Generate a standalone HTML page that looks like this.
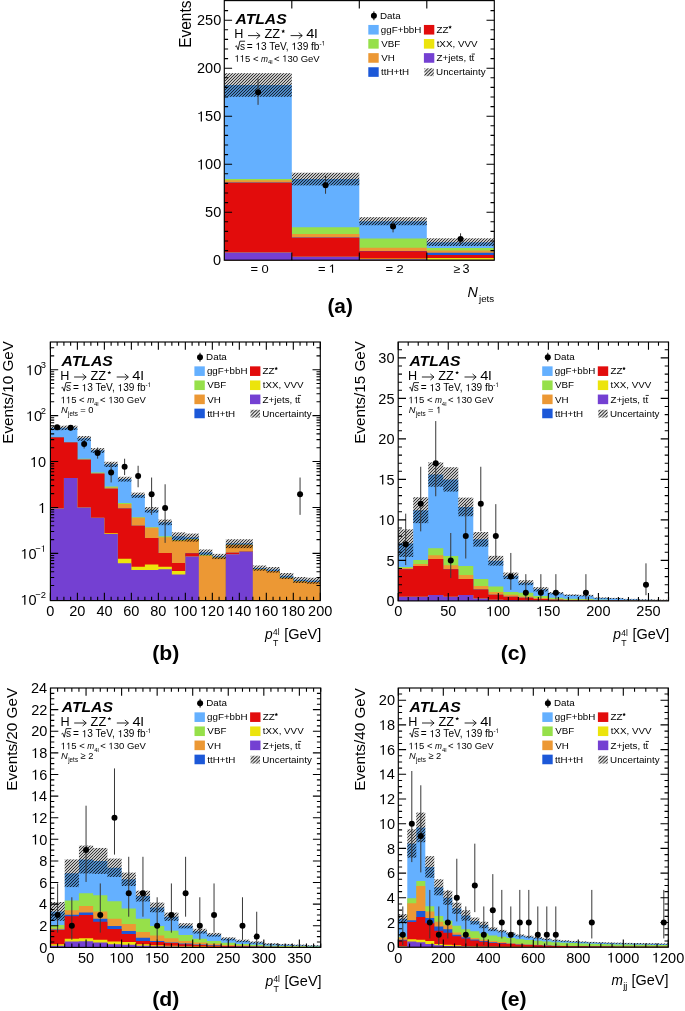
<!DOCTYPE html>
<html><head><meta charset="utf-8"><style>
html,body{margin:0;padding:0;background:#fff;width:685px;height:1011px;overflow:hidden;}
svg{display:block;font-family:"Liberation Sans", sans-serif;will-change:transform;-webkit-font-smoothing:antialiased;}
</style></head><body>
<svg width="685" height="1011" viewBox="0 0 685 1011">
<defs>
<pattern id="hp" patternUnits="userSpaceOnUse" width="3" height="3"><path d="M-1,1 L1,-1 M0,3 L3,0 M2,4 L4,2" stroke="#000" stroke-opacity="0.86" stroke-width="1.01"/></pattern><pattern id="hpl" patternUnits="userSpaceOnUse" width="3.4" height="3.4"><path d="M-1,1 L1,-1 M0,3.4 L3.4,0 M2.4,4.4 L4.4,2.4" stroke="#000" stroke-width="1.0"/></pattern>
<clipPath id="ca"><rect x="224.3" y="0.6" width="270" height="259.6"/></clipPath>
<clipPath id="cb"><rect x="50.4" y="342" width="269.9" height="258.6"/></clipPath>
<clipPath id="cc"><rect x="398.2" y="342" width="270.3" height="258.9"/></clipPath>
<clipPath id="cd"><rect x="50.5" y="688" width="270.2" height="259.4"/></clipPath>
<clipPath id="ce"><rect x="398.3" y="688" width="270" height="259.2"/></clipPath>
</defs>
<rect width="685" height="1011" fill="#fff"/>
<g font-family="'Liberation Sans', sans-serif" fill="#000">
<g clip-path="url(#ca)">
<path d="M224.3,262.2L224.3,85 L291.8,85L291.8,179.08 L359.3,179.08L359.3,221.22 L426.8,221.22L426.8,242.15 L494.3,242.15L494.3,262.2 Z" fill="#64b0ff"/>
<path d="M224.3,262.2L224.3,179.08 L291.8,179.08L291.8,227.18 L359.3,227.18L359.3,238.6 L426.8,238.6L426.8,248.01 L494.3,248.01L494.3,262.2 Z" fill="#96e04a"/>
<path d="M224.3,262.2L224.3,180.23 L291.8,180.23L291.8,234.09 L359.3,234.09L359.3,247.82 L426.8,247.82L426.8,250.5 L494.3,250.5L494.3,262.2 Z" fill="#ec9834"/>
<path d="M224.3,262.2L224.3,182.44 L291.8,182.44L291.8,237.54 L359.3,237.54L359.3,250.98 L426.8,250.98L426.8,252.81 L494.3,252.81L494.3,262.2 Z" fill="#1c58d8"/>
<path d="M224.3,262.2L224.3,182.63 L291.8,182.63L291.8,237.83 L359.3,237.83L359.3,251.27 L426.8,251.27L426.8,254.92 L494.3,254.92L494.3,262.2 Z" fill="#e20c0c"/>
<path d="M224.3,262.2L224.3,252.42 L291.8,252.42L291.8,256.65 L359.3,256.65L359.3,258.38 L426.8,258.38L426.8,257.99 L494.3,257.99L494.3,262.2 Z" fill="#ece40c"/>
<path d="M224.3,262.2L224.3,252.52 L291.8,252.52L291.8,256.84 L359.3,256.84L359.3,259.34 L426.8,259.34L426.8,259.72 L494.3,259.72L494.3,262.2 Z" fill="#7440d2"/>
</g>
<g clip-path="url(#ca)">
<rect x="224.3" y="73.19" width="67.5" height="23.62" fill="url(#hp)"/>
<rect x="291.8" y="172.74" width="67.5" height="12.67" fill="url(#hp)"/>
<rect x="359.3" y="217.19" width="67.5" height="8.06" fill="url(#hp)"/>
<rect x="426.8" y="238.31" width="67.5" height="7.68" fill="url(#hp)"/>
</g>
<g clip-path="url(#ca)">
<line x1="258.05" y1="78.76" x2="258.05" y2="104.87" stroke="#383838" stroke-width="1.0"/>
<circle cx="258.05" cy="92.2" r="3.0" fill="#000"/>
<line x1="325.55" y1="175.91" x2="325.55" y2="193.77" stroke="#383838" stroke-width="1.0"/>
<circle cx="325.55" cy="185.32" r="3.0" fill="#000"/>
<line x1="393.05" y1="220.84" x2="393.05" y2="232.36" stroke="#383838" stroke-width="1.0"/>
<circle cx="393.05" cy="226.6" r="3.0" fill="#000"/>
<line x1="460.55" y1="233.32" x2="460.55" y2="243.88" stroke="#383838" stroke-width="1.0"/>
<circle cx="460.55" cy="239.08" r="3.0" fill="#000"/>
</g>
<path d="M291.8,260.2v-7.8 M291.8,0.6v7.8 M359.3,260.2v-7.8 M359.3,0.6v7.8 M426.8,260.2v-7.8 M426.8,0.6v7.8 M224.3,212.2h7.8 M494.3,212.2h-7.8 M224.3,164.2h7.8 M494.3,164.2h-7.8 M224.3,116.2h7.8 M494.3,116.2h-7.8 M224.3,68.2h7.8 M494.3,68.2h-7.8 M224.3,20.2h7.8 M494.3,20.2h-7.8 M224.3,250.6h3.8 M494.3,250.6h-3.8 M224.3,241h3.8 M494.3,241h-3.8 M224.3,231.4h3.8 M494.3,231.4h-3.8 M224.3,221.8h3.8 M494.3,221.8h-3.8 M224.3,202.6h3.8 M494.3,202.6h-3.8 M224.3,193h3.8 M494.3,193h-3.8 M224.3,183.4h3.8 M494.3,183.4h-3.8 M224.3,173.8h3.8 M494.3,173.8h-3.8 M224.3,154.6h3.8 M494.3,154.6h-3.8 M224.3,145h3.8 M494.3,145h-3.8 M224.3,135.4h3.8 M494.3,135.4h-3.8 M224.3,125.8h3.8 M494.3,125.8h-3.8 M224.3,106.6h3.8 M494.3,106.6h-3.8 M224.3,97h3.8 M494.3,97h-3.8 M224.3,87.4h3.8 M494.3,87.4h-3.8 M224.3,77.8h3.8 M494.3,77.8h-3.8 M224.3,58.6h3.8 M494.3,58.6h-3.8 M224.3,49h3.8 M494.3,49h-3.8 M224.3,39.4h3.8 M494.3,39.4h-3.8 M224.3,29.8h3.8 M494.3,29.8h-3.8 M224.3,10.6h3.8 M494.3,10.6h-3.8" stroke="#000" stroke-width="1.1" fill="none"/>
<rect x="224.3" y="0.6" width="270" height="259.6" fill="none" stroke="#000" stroke-width="1.15"/>
<text transform="translate(235.51,24.45) scale(1.02,1)" font-size="15.4" text-anchor="start" font-weight="bold" font-style="italic">ATLAS</text>
<text transform="translate(234.19,38.2) scale(0.95,1)" font-size="13.3" text-anchor="start">H</text>
<path d="M248,35.6H259.8 M256.5,32.6L260.1,35.6L256.5,38.6" stroke="#000" stroke-width="0.85" fill="none"/>
<text transform="translate(264.42,38.2) scale(0.96,1)" font-size="13.3" text-anchor="start">ZZ</text>
<polygon points="283.2,29.3 283.73,30.57 285.1,30.68 284.06,31.58 284.38,32.92 283.2,32.2 282.02,32.92 282.34,31.58 281.3,30.68 282.67,30.57" fill="#000"/>
<path d="M290.6,35.6H302 M298.7,32.6L302.3,35.6L298.7,38.6" stroke="#000" stroke-width="0.85" fill="none"/>
<text transform="translate(306.23,38.2) scale(1.1,1)" font-size="13.3" text-anchor="start">4l</text>
<path d="M235.3,46.5 l1.2,-0.7 l1.6,4.0 l1.8,-8.6 h5.2" stroke="#000" stroke-width="0.85" fill="none"/>
<text transform="translate(239.9,49.8) scale(1,1)" font-size="10.1" text-anchor="start">s</text>
<text transform="translate(246.8,49.8) scale(1,1)" font-size="10.1" text-anchor="start">=  3 TeV,  39 fb</text>
<path transform="translate(255.5,49.8) scale(10.1000,-10.1000)" d="M0.258,0L0.343,0L0.343,0.688L0.262,0.688C0.24,0.62 0.2,0.585 0.1,0.575L0.1,0.505C0.17,0.51 0.225,0.53 0.258,0.56Z"/>
<path transform="translate(291.45,49.8) scale(10.1000,-10.1000)" d="M0.258,0L0.343,0L0.343,0.688L0.262,0.688C0.24,0.62 0.2,0.585 0.1,0.575L0.1,0.505C0.17,0.51 0.225,0.53 0.258,0.56Z"/>
<text transform="translate(319.43,45.6) scale(0.96,1)" font-size="6.6" text-anchor="start">- </text>
<path transform="translate(321.54,45.6) scale(6.3360,-6.6000)" d="M0.258,0L0.343,0L0.343,0.688L0.262,0.688C0.24,0.62 0.2,0.585 0.1,0.575L0.1,0.505C0.17,0.51 0.225,0.53 0.258,0.56Z"/>
<text transform="translate(234.49,61.8) scale(1,1)" font-size="9.5" text-anchor="start">  5 &lt; </text>
<path transform="translate(234.49,61.8) scale(9.5000,-9.5000)" d="M0.258,0L0.343,0L0.343,0.688L0.262,0.688C0.24,0.62 0.2,0.585 0.1,0.575L0.1,0.505C0.17,0.51 0.225,0.53 0.258,0.56Z"/>
<path transform="translate(239.77,61.8) scale(9.5000,-9.5000)" d="M0.258,0L0.343,0L0.343,0.688L0.262,0.688C0.24,0.62 0.2,0.585 0.1,0.575L0.1,0.505C0.17,0.51 0.225,0.53 0.258,0.56Z"/>
<text transform="translate(261.03,61.8) scale(0.88,1)" font-size="9.5" text-anchor="start" font-style="italic">m</text>
<text transform="translate(267.95,64.1) scale(0.96,1)" font-size="6.2" text-anchor="start">4l</text>
<text transform="translate(274.01,61.8) scale(1,1)" font-size="9.5" text-anchor="start">&lt;  30 GeV</text>
<path transform="translate(282.19,61.8) scale(9.5000,-9.5000)" d="M0.258,0L0.343,0L0.343,0.688L0.262,0.688C0.24,0.62 0.2,0.585 0.1,0.575L0.1,0.505C0.17,0.51 0.225,0.53 0.258,0.56Z"/>
<line x1="373.9" y1="11.4" x2="373.9" y2="20.2" stroke="#000" stroke-width="1"/>
<circle cx="373.9" cy="15.8" r="3.0" fill="#000"/>
<text transform="translate(380.02,18.8) scale(0.99,1)" font-size="9.9" text-anchor="start">Data</text>
<rect x="368.3" y="24.95" width="10.4" height="9.6" fill="#64b0ff"/>
<text transform="translate(380.81,32.9) scale(0.99,1)" font-size="9.9" text-anchor="start">ggF+bbH</text>
<rect x="423.9" y="24.95" width="10.4" height="9.6" fill="#e20c0c"/>
<text transform="translate(436.51,32.9) scale(0.99,1)" font-size="9.9" text-anchor="start">ZZ</text>
<polygon points="450.08,25.25 450.58,26.46 451.89,26.56 450.89,27.41 451.2,28.69 450.08,28.01 448.96,28.69 449.27,27.41 448.27,26.56 449.58,26.46" fill="#000"/>
<rect x="368.3" y="39.05" width="10.4" height="9.6" fill="#96e04a"/>
<text transform="translate(381.15,47) scale(0.99,1)" font-size="9.9" text-anchor="start">VBF</text>
<rect x="423.9" y="39.05" width="10.4" height="9.6" fill="#ece40c"/>
<text transform="translate(436.65,47) scale(0.99,1)" font-size="9.9" text-anchor="start">tXX, VVV</text>
<rect x="368.3" y="53.15" width="10.4" height="9.6" fill="#ec9834"/>
<text transform="translate(381.15,61.1) scale(0.99,1)" font-size="9.9" text-anchor="start">VH</text>
<rect x="423.9" y="53.15" width="10.4" height="9.6" fill="#7440d2"/>
<text transform="translate(436.51,61.1) scale(0.99,1)" font-size="9.9" text-anchor="start">Z+jets, t</text>
<text transform="translate(471.49,61.1) scale(0.99,1)" font-size="9.9" text-anchor="start">t</text>
<line x1="471.74" y1="54.05" x2="474.94" y2="54.05" stroke="#000" stroke-width="0.8"/>
<rect x="368.3" y="67.25" width="10.4" height="9.6" fill="#1c58d8"/>
<text transform="translate(381.05,75.2) scale(0.99,1)" font-size="9.9" text-anchor="start">ttH+tH</text>
<rect x="424.4" y="68.35" width="9.4" height="7.8" fill="url(#hpl)"/>
<text transform="translate(436.06,75.2) scale(0.99,1)" font-size="9.9" text-anchor="start">Uncertainty</text>
<text transform="translate(213.11,265.39) scale(1.01,1)" font-size="14.4" text-anchor="start">0</text>
<text transform="translate(205.04,217.39) scale(1.01,1)" font-size="14.4" text-anchor="start">50</text>
<text transform="translate(196.97,169.39) scale(1.01,1)" font-size="14.4" text-anchor="start"> 00</text>
<path transform="translate(196.97,169.39) scale(14.5440,-14.4000)" d="M0.258,0L0.343,0L0.343,0.688L0.262,0.688C0.24,0.62 0.2,0.585 0.1,0.575L0.1,0.505C0.17,0.51 0.225,0.53 0.258,0.56Z"/>
<text transform="translate(196.97,121.39) scale(1.01,1)" font-size="14.4" text-anchor="start"> 50</text>
<path transform="translate(196.97,121.39) scale(14.5440,-14.4000)" d="M0.258,0L0.343,0L0.343,0.688L0.262,0.688C0.24,0.62 0.2,0.585 0.1,0.575L0.1,0.505C0.17,0.51 0.225,0.53 0.258,0.56Z"/>
<text transform="translate(196.97,73.39) scale(1.01,1)" font-size="14.4" text-anchor="start">200</text>
<text transform="translate(196.97,25.39) scale(1.01,1)" font-size="14.4" text-anchor="start">250</text>
<text transform="translate(250.45,272.7) scale(1.12,1)" font-size="11.6" text-anchor="start">=</text>
<text transform="translate(261.58,272.7) scale(1.1,1)" font-size="11.8" text-anchor="start">0</text>
<text transform="translate(317.95,272.7) scale(1.12,1)" font-size="11.6" text-anchor="start">=</text>
<text transform="translate(328.63,272.7) scale(1.1,1)" font-size="11.8" text-anchor="start"> </text>
<path transform="translate(328.63,272.7) scale(12.9800,-11.8000)" d="M0.258,0L0.343,0L0.343,0.688L0.262,0.688C0.24,0.62 0.2,0.585 0.1,0.575L0.1,0.505C0.17,0.51 0.225,0.53 0.258,0.56Z"/>
<text transform="translate(385.45,272.7) scale(1.12,1)" font-size="11.6" text-anchor="start">=</text>
<text transform="translate(396.45,272.7) scale(1.1,1)" font-size="11.8" text-anchor="start">2</text>
<text transform="translate(453.53,272.7) scale(1.05,1)" font-size="11.8" text-anchor="start">&#8805;</text>
<text transform="translate(462.39,272.7) scale(1.02,1)" font-size="12.4" text-anchor="start">3</text>
<text transform="translate(191.2,0.5) rotate(-90) scale(1,1.04)" font-size="15.5" text-anchor="end">Events</text>
<text transform="translate(467.47,296.8) scale(1,1)" font-size="14.3" text-anchor="start" font-style="italic">N</text>
<text transform="translate(478.95,301.6) scale(1.09,1)" font-size="9" text-anchor="start">jets</text>
<text transform="translate(327.41,313) scale(1.04,1)" font-size="20" text-anchor="start" font-weight="bold">(a)</text>
<g clip-path="url(#cb)">
<path d="M50.4,602.6L50.4,427.84 L63.9,427.84L63.9,427.67 L77.39,427.67L77.39,438.23 L90.89,438.23L90.89,450.35 L104.38,450.35L104.38,464.21 L117.88,464.21L117.88,479.02 L131.37,479.02L131.37,495.04 L144.87,495.04L144.87,509.66 L158.36,509.66L158.36,522.17 L171.86,522.17L171.86,536.36 L185.35,536.36L185.35,537.2 L198.85,537.2L198.85,552.22 L212.34,552.22L212.34,556.29 L225.84,556.29L225.84,543.21 L239.33,543.21L239.33,543.21 L252.83,543.21L252.83,567.92 L266.32,567.92L266.32,569.62 L279.81,569.62L279.81,575.78 L293.31,575.78L293.31,579.77 L306.81,579.77L306.81,580.51 L320.3,580.51L320.3,602.6 Z" fill="#64b0ff"/>
<path d="M50.4,602.6L50.4,437.13 L63.9,437.13L63.9,442.15 L77.39,442.15L77.39,458.63 L90.89,458.63L90.89,472.4 L104.38,472.4L104.38,486.51 L117.88,486.51L117.88,503.1 L131.37,503.1L131.37,517.18 L144.87,517.18L144.87,527.22 L158.36,527.22L158.36,536.36 L171.86,536.36L171.86,539.98 L185.35,539.98L185.35,539.01 L198.85,539.01L198.85,554.77 L212.34,554.77L212.34,557.45 L225.84,557.45L225.84,544.79 L239.33,544.79L239.33,544.79 L252.83,544.79L252.83,569.18 L266.32,569.18L266.32,570.99 L279.81,570.99L279.81,577.67 L293.31,577.67L293.31,581.29 L306.81,581.29L306.81,582.11 L320.3,582.11L320.3,602.6 Z" fill="#96e04a"/>
<path d="M50.4,602.6L50.4,437.25 L63.9,437.25L63.9,442.3 L77.39,442.3L77.39,459.13 L90.89,459.13L90.89,472.9 L104.38,472.9L104.38,487.54 L117.88,487.54L117.88,504.05 L131.37,504.05L131.37,517.82 L144.87,517.82L144.87,527.75 L158.36,527.75L158.36,537.2 L171.86,537.2L171.86,540.48 L185.35,540.48L185.35,539.49 L198.85,539.49L198.85,555.41 L212.34,555.41L212.34,557.45 L225.84,557.45L225.84,544.79 L239.33,544.79L239.33,544.79 L252.83,544.79L252.83,569.18 L266.32,569.18L266.32,570.99 L279.81,570.99L279.81,577.67 L293.31,577.67L293.31,581.29 L306.81,581.29L306.81,582.11 L320.3,582.11L320.3,602.6 Z" fill="#ec9834"/>
<path d="M50.4,602.6L50.4,437.42 L63.9,437.42L63.9,442.52 L77.39,442.52L77.39,459.82 L90.89,459.82L90.89,473.77 L104.38,473.77L104.38,488.79 L117.88,488.79L117.88,508.61 L131.37,508.61L131.37,525.72 L144.87,525.72L144.87,538.08 L158.36,538.08L158.36,552.97 L171.86,552.97L171.86,562.93 L185.35,562.93L185.35,553.16 L198.85,553.16L198.85,602.6 L212.34,602.6L212.34,602.6 L225.84,602.6L225.84,552.78 L239.33,552.78L239.33,551.5 L252.83,551.5L252.83,602.6 L266.32,602.6L266.32,602.6 L279.81,602.6L279.81,602.6 L293.31,602.6L293.31,602.6 L306.81,602.6L306.81,602.6 L320.3,602.6L320.3,602.6 Z" fill="#1c58d8"/>
<path d="M50.4,602.6L50.4,437.42 L63.9,437.42L63.9,442.52 L77.39,442.52L77.39,459.82 L90.89,459.82L90.89,473.77 L104.38,473.77L104.38,488.79 L117.88,488.79L117.88,508.61 L131.37,508.61L131.37,525.72 L144.87,525.72L144.87,538.08 L158.36,538.08L158.36,552.97 L171.86,552.97L171.86,562.93 L185.35,562.93L185.35,553.16 L198.85,553.16L198.85,602.6 L212.34,602.6L212.34,602.6 L225.84,602.6L225.84,552.78 L239.33,552.78L239.33,551.5 L252.83,551.5L252.83,602.6 L266.32,602.6L266.32,602.6 L279.81,602.6L279.81,602.6 L293.31,602.6L293.31,602.6 L306.81,602.6L306.81,602.6 L320.3,602.6L320.3,602.6 Z" fill="#e20c0c"/>
<path d="M50.4,602.6L50.4,508.61 L63.9,508.61L63.9,478.12 L77.39,478.12L77.39,507.41 L90.89,507.41L90.89,517.82 L104.38,517.82L104.38,533.29 L117.88,533.29L117.88,558.69 L131.37,558.69L131.37,566.74 L144.87,566.74L144.87,564.57 L158.36,564.57L158.36,566.74 L171.86,566.74L171.86,570.99 L185.35,570.99L185.35,556.52 L198.85,556.52L198.85,602.6 L212.34,602.6L212.34,602.6 L225.84,602.6L225.84,554.36 L239.33,554.36L239.33,551.86 L252.83,551.86L252.83,602.6 L266.32,602.6L266.32,602.6 L279.81,602.6L279.81,602.6 L293.31,602.6L293.31,602.6 L306.81,602.6L306.81,602.6 L320.3,602.6L320.3,602.6 Z" fill="#ece40c"/>
<path d="M50.4,602.6L50.4,508.61 L63.9,508.61L63.9,478.12 L77.39,478.12L77.39,507.41 L90.89,507.41L90.89,517.82 L104.38,517.82L104.38,534.02 L117.88,534.02L117.88,563.25 L131.37,563.25L131.37,570.06 L144.87,570.06L144.87,570.06 L158.36,570.06L158.36,569.18 L171.86,569.18L171.86,574.61 L185.35,574.61L185.35,556.52 L198.85,556.52L198.85,602.6 L212.34,602.6L212.34,602.6 L225.84,602.6L225.84,554.36 L239.33,554.36L239.33,551.86 L252.83,551.86L252.83,602.6 L266.32,602.6L266.32,602.6 L279.81,602.6L279.81,602.6 L293.31,602.6L293.31,602.6 L306.81,602.6L306.81,602.6 L320.3,602.6L320.3,602.6 Z" fill="#7440d2"/>
</g>
<g clip-path="url(#cb)">
<rect x="50.4" y="425.77" width="13.5" height="4.39" fill="url(#hp)"/>
<rect x="63.9" y="425.6" width="13.49" height="4.39" fill="url(#hp)"/>
<rect x="77.39" y="435.98" width="13.5" height="4.79" fill="url(#hp)"/>
<rect x="90.89" y="448.1" width="13.5" height="4.79" fill="url(#hp)"/>
<rect x="104.38" y="461.78" width="13.49" height="5.2" fill="url(#hp)"/>
<rect x="117.88" y="476.77" width="13.5" height="4.79" fill="url(#hp)"/>
<rect x="131.37" y="492.61" width="13.5" height="5.2" fill="url(#hp)"/>
<rect x="144.87" y="507.05" width="13.5" height="5.6" fill="url(#hp)"/>
<rect x="158.36" y="519.57" width="13.5" height="5.6" fill="url(#hp)"/>
<rect x="171.86" y="532.4" width="13.5" height="8.89" fill="url(#hp)"/>
<rect x="185.35" y="533.58" width="13.5" height="8.06" fill="url(#hp)"/>
<rect x="198.85" y="549.44" width="13.5" height="6.01" fill="url(#hp)"/>
<rect x="212.34" y="553.86" width="13.5" height="5.2" fill="url(#hp)"/>
<rect x="225.84" y="539.26" width="13.49" height="8.89" fill="url(#hp)"/>
<rect x="239.33" y="539.26" width="13.5" height="8.89" fill="url(#hp)"/>
<rect x="252.83" y="565.5" width="13.5" height="5.2" fill="url(#hp)"/>
<rect x="266.32" y="567.01" width="13.49" height="5.6" fill="url(#hp)"/>
<rect x="279.81" y="573" width="13.5" height="6.01" fill="url(#hp)"/>
<rect x="293.31" y="576.99" width="13.5" height="6.01" fill="url(#hp)"/>
<rect x="306.81" y="577.74" width="13.5" height="6.01" fill="url(#hp)"/>
</g>
<g clip-path="url(#cb)">
<line x1="57.15" y1="424.87" x2="57.15" y2="430.12" stroke="#383838" stroke-width="1.0"/>
<circle cx="57.15" cy="427.32" r="3.0" fill="#000"/>
<line x1="70.64" y1="425.2" x2="70.64" y2="430.49" stroke="#383838" stroke-width="1.0"/>
<circle cx="70.64" cy="427.67" r="3.0" fill="#000"/>
<line x1="84.14" y1="440.42" x2="84.14" y2="448.48" stroke="#383838" stroke-width="1.0"/>
<circle cx="84.14" cy="444.04" r="3.0" fill="#000"/>
<line x1="97.63" y1="447.51" x2="97.63" y2="458.63" stroke="#383838" stroke-width="1.0"/>
<circle cx="97.63" cy="452.91" r="3.0" fill="#000"/>
<line x1="111.13" y1="463.09" x2="111.13" y2="482.44" stroke="#383838" stroke-width="1.0"/>
<circle cx="111.13" cy="472.4" r="3.0" fill="#000"/>
<line x1="124.62" y1="458.72" x2="124.62" y2="475.12" stroke="#383838" stroke-width="1.0"/>
<circle cx="124.62" cy="466.68" r="3.0" fill="#000"/>
<line x1="138.12" y1="465.75" x2="138.12" y2="487.26" stroke="#383838" stroke-width="1.0"/>
<circle cx="138.12" cy="476.02" r="3.0" fill="#000"/>
<line x1="151.61" y1="477.52" x2="151.61" y2="514.86" stroke="#383838" stroke-width="1.0"/>
<circle cx="151.61" cy="494.23" r="3.0" fill="#000"/>
<line x1="165.11" y1="484.28" x2="165.11" y2="542.86" stroke="#383838" stroke-width="1.0"/>
<circle cx="165.11" cy="508" r="3.0" fill="#000"/>
<line x1="300.06" y1="477.52" x2="300.06" y2="514.86" stroke="#383838" stroke-width="1.0"/>
<circle cx="300.06" cy="494.23" r="3.0" fill="#000"/>
</g>
<path d="M50.4,600.6v-7.8 M50.4,342v7.8 M77.39,600.6v-7.8 M77.39,342v7.8 M104.38,600.6v-7.8 M104.38,342v7.8 M131.37,600.6v-7.8 M131.37,342v7.8 M158.36,600.6v-7.8 M158.36,342v7.8 M185.35,600.6v-7.8 M185.35,342v7.8 M212.34,600.6v-7.8 M212.34,342v7.8 M239.33,600.6v-7.8 M239.33,342v7.8 M266.32,600.6v-7.8 M266.32,342v7.8 M293.31,600.6v-7.8 M293.31,342v7.8 M320.3,600.6v-7.8 M320.3,342v7.8 M57.15,600.6v-3.8 M57.15,342v3.8 M63.9,600.6v-3.8 M63.9,342v3.8 M70.64,600.6v-3.8 M70.64,342v3.8 M84.14,600.6v-3.8 M84.14,342v3.8 M90.89,600.6v-3.8 M90.89,342v3.8 M97.63,600.6v-3.8 M97.63,342v3.8 M111.13,600.6v-3.8 M111.13,342v3.8 M117.88,600.6v-3.8 M117.88,342v3.8 M124.62,600.6v-3.8 M124.62,342v3.8 M138.12,600.6v-3.8 M138.12,342v3.8 M144.87,600.6v-3.8 M144.87,342v3.8 M151.61,600.6v-3.8 M151.61,342v3.8 M165.11,600.6v-3.8 M165.11,342v3.8 M171.86,600.6v-3.8 M171.86,342v3.8 M178.6,600.6v-3.8 M178.6,342v3.8 M192.1,600.6v-3.8 M192.1,342v3.8 M198.85,600.6v-3.8 M198.85,342v3.8 M205.59,600.6v-3.8 M205.59,342v3.8 M219.09,600.6v-3.8 M219.09,342v3.8 M225.84,600.6v-3.8 M225.84,342v3.8 M232.58,600.6v-3.8 M232.58,342v3.8 M246.08,600.6v-3.8 M246.08,342v3.8 M252.83,600.6v-3.8 M252.83,342v3.8 M259.57,600.6v-3.8 M259.57,342v3.8 M273.07,600.6v-3.8 M273.07,342v3.8 M279.81,600.6v-3.8 M279.81,342v3.8 M286.56,600.6v-3.8 M286.56,342v3.8 M300.06,600.6v-3.8 M300.06,342v3.8 M306.81,600.6v-3.8 M306.81,342v3.8 M313.55,600.6v-3.8 M313.55,342v3.8 M50.4,553.42h7.8 M320.3,553.42h-7.8 M50.4,507.49h7.8 M320.3,507.49h-7.8 M50.4,461.56h7.8 M320.3,461.56h-7.8 M50.4,415.63h7.8 M320.3,415.63h-7.8 M50.4,369.7h7.8 M320.3,369.7h-7.8 M50.4,585.52h3.8 M320.3,585.52h-3.8 M50.4,577.44h3.8 M320.3,577.44h-3.8 M50.4,571.7h3.8 M320.3,571.7h-3.8 M50.4,567.25h3.8 M320.3,567.25h-3.8 M50.4,563.61h3.8 M320.3,563.61h-3.8 M50.4,560.53h3.8 M320.3,560.53h-3.8 M50.4,557.87h3.8 M320.3,557.87h-3.8 M50.4,555.52h3.8 M320.3,555.52h-3.8 M50.4,539.59h3.8 M320.3,539.59h-3.8 M50.4,531.51h3.8 M320.3,531.51h-3.8 M50.4,525.77h3.8 M320.3,525.77h-3.8 M50.4,521.32h3.8 M320.3,521.32h-3.8 M50.4,517.68h3.8 M320.3,517.68h-3.8 M50.4,514.6h3.8 M320.3,514.6h-3.8 M50.4,511.94h3.8 M320.3,511.94h-3.8 M50.4,509.59h3.8 M320.3,509.59h-3.8 M50.4,493.66h3.8 M320.3,493.66h-3.8 M50.4,485.58h3.8 M320.3,485.58h-3.8 M50.4,479.84h3.8 M320.3,479.84h-3.8 M50.4,475.39h3.8 M320.3,475.39h-3.8 M50.4,471.75h3.8 M320.3,471.75h-3.8 M50.4,468.67h3.8 M320.3,468.67h-3.8 M50.4,466.01h3.8 M320.3,466.01h-3.8 M50.4,463.66h3.8 M320.3,463.66h-3.8 M50.4,447.73h3.8 M320.3,447.73h-3.8 M50.4,439.65h3.8 M320.3,439.65h-3.8 M50.4,433.91h3.8 M320.3,433.91h-3.8 M50.4,429.46h3.8 M320.3,429.46h-3.8 M50.4,425.82h3.8 M320.3,425.82h-3.8 M50.4,422.74h3.8 M320.3,422.74h-3.8 M50.4,420.08h3.8 M320.3,420.08h-3.8 M50.4,417.73h3.8 M320.3,417.73h-3.8 M50.4,401.8h3.8 M320.3,401.8h-3.8 M50.4,393.72h3.8 M320.3,393.72h-3.8 M50.4,387.98h3.8 M320.3,387.98h-3.8 M50.4,383.53h3.8 M320.3,383.53h-3.8 M50.4,379.89h3.8 M320.3,379.89h-3.8 M50.4,376.81h3.8 M320.3,376.81h-3.8 M50.4,374.15h3.8 M320.3,374.15h-3.8 M50.4,371.8h3.8 M320.3,371.8h-3.8 M50.4,355.87h3.8 M320.3,355.87h-3.8 M50.4,347.79h3.8 M320.3,347.79h-3.8" stroke="#000" stroke-width="1.1" fill="none"/>
<rect x="50.4" y="342" width="269.9" height="258.6" fill="none" stroke="#000" stroke-width="1.15"/>
<text transform="translate(61.61,365.85) scale(1.02,1)" font-size="15.4" text-anchor="start" font-weight="bold" font-style="italic">ATLAS</text>
<text transform="translate(60.29,379.6) scale(0.95,1)" font-size="13.3" text-anchor="start">H</text>
<path d="M74.1,377H85.9 M82.6,374L86.2,377L82.6,380" stroke="#000" stroke-width="0.85" fill="none"/>
<text transform="translate(90.52,379.6) scale(0.96,1)" font-size="13.3" text-anchor="start">ZZ</text>
<polygon points="109.3,370.7 109.83,371.97 111.2,372.08 110.16,372.98 110.48,374.32 109.3,373.6 108.12,374.32 108.44,372.98 107.4,372.08 108.77,371.97" fill="#000"/>
<path d="M116.7,377H128.1 M124.8,374L128.4,377L124.8,380" stroke="#000" stroke-width="0.85" fill="none"/>
<text transform="translate(132.33,379.6) scale(1.1,1)" font-size="13.3" text-anchor="start">4l</text>
<path d="M61.4,387.9 l1.2,-0.7 l1.6,4.0 l1.8,-8.6 h5.2" stroke="#000" stroke-width="0.85" fill="none"/>
<text transform="translate(66,391.2) scale(1,1)" font-size="10.1" text-anchor="start">s</text>
<text transform="translate(72.9,391.2) scale(1,1)" font-size="10.1" text-anchor="start">=  3 TeV,  39 fb</text>
<path transform="translate(81.6,391.2) scale(10.1000,-10.1000)" d="M0.258,0L0.343,0L0.343,0.688L0.262,0.688C0.24,0.62 0.2,0.585 0.1,0.575L0.1,0.505C0.17,0.51 0.225,0.53 0.258,0.56Z"/>
<path transform="translate(117.55,391.2) scale(10.1000,-10.1000)" d="M0.258,0L0.343,0L0.343,0.688L0.262,0.688C0.24,0.62 0.2,0.585 0.1,0.575L0.1,0.505C0.17,0.51 0.225,0.53 0.258,0.56Z"/>
<text transform="translate(145.53,387) scale(0.96,1)" font-size="6.6" text-anchor="start">- </text>
<path transform="translate(147.64,387) scale(6.3360,-6.6000)" d="M0.258,0L0.343,0L0.343,0.688L0.262,0.688C0.24,0.62 0.2,0.585 0.1,0.575L0.1,0.505C0.17,0.51 0.225,0.53 0.258,0.56Z"/>
<text transform="translate(60.59,403.2) scale(1,1)" font-size="9.5" text-anchor="start">  5 &lt; </text>
<path transform="translate(60.59,403.2) scale(9.5000,-9.5000)" d="M0.258,0L0.343,0L0.343,0.688L0.262,0.688C0.24,0.62 0.2,0.585 0.1,0.575L0.1,0.505C0.17,0.51 0.225,0.53 0.258,0.56Z"/>
<path transform="translate(65.87,403.2) scale(9.5000,-9.5000)" d="M0.258,0L0.343,0L0.343,0.688L0.262,0.688C0.24,0.62 0.2,0.585 0.1,0.575L0.1,0.505C0.17,0.51 0.225,0.53 0.258,0.56Z"/>
<text transform="translate(87.13,403.2) scale(0.88,1)" font-size="9.5" text-anchor="start" font-style="italic">m</text>
<text transform="translate(94.05,405.5) scale(0.96,1)" font-size="6.2" text-anchor="start">4l</text>
<text transform="translate(100.11,403.2) scale(1,1)" font-size="9.5" text-anchor="start">&lt;  30 GeV</text>
<path transform="translate(108.29,403.2) scale(9.5000,-9.5000)" d="M0.258,0L0.343,0L0.343,0.688L0.262,0.688C0.24,0.62 0.2,0.585 0.1,0.575L0.1,0.505C0.17,0.51 0.225,0.53 0.258,0.56Z"/>
<text transform="translate(61.02,413.3) scale(0.98,1)" font-size="9.5" text-anchor="start" font-style="italic">N</text>
<text transform="translate(68.1,415.8) scale(0.96,1)" font-size="6.6" text-anchor="start">jets</text>
<text transform="translate(80.3,413.3) scale(0.98,1)" font-size="9.5" text-anchor="start">= 0</text>
<line x1="200" y1="352.8" x2="200" y2="361.6" stroke="#000" stroke-width="1"/>
<circle cx="200" cy="357.2" r="3.0" fill="#000"/>
<text transform="translate(206.12,360.2) scale(0.99,1)" font-size="9.9" text-anchor="start">Data</text>
<rect x="194.4" y="366.35" width="10.4" height="9.6" fill="#64b0ff"/>
<text transform="translate(206.91,374.3) scale(0.99,1)" font-size="9.9" text-anchor="start">ggF+bbH</text>
<rect x="250" y="366.35" width="10.4" height="9.6" fill="#e20c0c"/>
<text transform="translate(262.61,374.3) scale(0.99,1)" font-size="9.9" text-anchor="start">ZZ</text>
<polygon points="276.18,366.65 276.68,367.86 277.99,367.96 276.99,368.81 277.3,370.09 276.18,369.41 275.06,370.09 275.37,368.81 274.37,367.96 275.68,367.86" fill="#000"/>
<rect x="194.4" y="380.45" width="10.4" height="9.6" fill="#96e04a"/>
<text transform="translate(207.25,388.4) scale(0.99,1)" font-size="9.9" text-anchor="start">VBF</text>
<rect x="250" y="380.45" width="10.4" height="9.6" fill="#ece40c"/>
<text transform="translate(262.75,388.4) scale(0.99,1)" font-size="9.9" text-anchor="start">tXX, VVV</text>
<rect x="194.4" y="394.55" width="10.4" height="9.6" fill="#ec9834"/>
<text transform="translate(207.25,402.5) scale(0.99,1)" font-size="9.9" text-anchor="start">VH</text>
<rect x="250" y="394.55" width="10.4" height="9.6" fill="#7440d2"/>
<text transform="translate(262.61,402.5) scale(0.99,1)" font-size="9.9" text-anchor="start">Z+jets, t</text>
<text transform="translate(297.59,402.5) scale(0.99,1)" font-size="9.9" text-anchor="start">t</text>
<line x1="297.84" y1="395.45" x2="301.04" y2="395.45" stroke="#000" stroke-width="0.8"/>
<rect x="194.4" y="408.65" width="10.4" height="9.6" fill="#1c58d8"/>
<text transform="translate(207.15,416.6) scale(0.99,1)" font-size="9.9" text-anchor="start">ttH+tH</text>
<rect x="250.5" y="409.75" width="9.4" height="7.8" fill="url(#hpl)"/>
<text transform="translate(262.16,416.6) scale(0.99,1)" font-size="9.9" text-anchor="start">Uncertainty</text>
<text transform="translate(35.25,597.79) scale(1,1)" font-size="9.4" text-anchor="start">−2</text>
<text transform="translate(20.46,604.79) scale(1.01,1)" font-size="14.4" text-anchor="start"> 0</text>
<path transform="translate(20.46,604.79) scale(14.5440,-14.4000)" d="M0.258,0L0.343,0L0.343,0.688L0.262,0.688C0.24,0.62 0.2,0.585 0.1,0.575L0.1,0.505C0.17,0.51 0.225,0.53 0.258,0.56Z"/>
<text transform="translate(35.25,551.86) scale(1,1)" font-size="9.4" text-anchor="start">− </text>
<path transform="translate(40.74,551.86) scale(9.4000,-9.4000)" d="M0.258,0L0.343,0L0.343,0.688L0.262,0.688C0.24,0.62 0.2,0.585 0.1,0.575L0.1,0.505C0.17,0.51 0.225,0.53 0.258,0.56Z"/>
<text transform="translate(20.46,558.86) scale(1.01,1)" font-size="14.4" text-anchor="start"> 0</text>
<path transform="translate(20.46,558.86) scale(14.5440,-14.4000)" d="M0.258,0L0.343,0L0.343,0.688L0.262,0.688C0.24,0.62 0.2,0.585 0.1,0.575L0.1,0.505C0.17,0.51 0.225,0.53 0.258,0.56Z"/>
<text transform="translate(38.16,512.93) scale(1.01,1)" font-size="14.4" text-anchor="start"> </text>
<path transform="translate(38.16,512.93) scale(14.5440,-14.4000)" d="M0.258,0L0.343,0L0.343,0.688L0.262,0.688C0.24,0.62 0.2,0.585 0.1,0.575L0.1,0.505C0.17,0.51 0.225,0.53 0.258,0.56Z"/>
<text transform="translate(29.94,467) scale(1.01,1)" font-size="14.4" text-anchor="start"> 0</text>
<path transform="translate(29.94,467) scale(14.5440,-14.4000)" d="M0.258,0L0.343,0L0.343,0.688L0.262,0.688C0.24,0.62 0.2,0.585 0.1,0.575L0.1,0.505C0.17,0.51 0.225,0.53 0.258,0.56Z"/>
<text transform="translate(40.75,414.07) scale(1,1)" font-size="9.4" text-anchor="start">2</text>
<text transform="translate(25.96,421.07) scale(1.01,1)" font-size="14.4" text-anchor="start"> 0</text>
<path transform="translate(25.96,421.07) scale(14.5440,-14.4000)" d="M0.258,0L0.343,0L0.343,0.688L0.262,0.688C0.24,0.62 0.2,0.585 0.1,0.575L0.1,0.505C0.17,0.51 0.225,0.53 0.258,0.56Z"/>
<text transform="translate(40.71,368.14) scale(1,1)" font-size="9.4" text-anchor="start">3</text>
<text transform="translate(25.82,375.14) scale(1.01,1)" font-size="14.4" text-anchor="start"> 0</text>
<path transform="translate(25.82,375.14) scale(14.5440,-14.4000)" d="M0.258,0L0.343,0L0.343,0.688L0.262,0.688C0.24,0.62 0.2,0.585 0.1,0.575L0.1,0.505C0.17,0.51 0.225,0.53 0.258,0.56Z"/>
<text transform="translate(46.36,616) scale(1.01,1)" font-size="14.4" text-anchor="start">0</text>
<text transform="translate(69.25,616) scale(1.01,1)" font-size="14.4" text-anchor="start">20</text>
<text transform="translate(96.42,616) scale(1.01,1)" font-size="14.4" text-anchor="start">40</text>
<text transform="translate(123.23,616) scale(1.01,1)" font-size="14.4" text-anchor="start">60</text>
<text transform="translate(150.25,616) scale(1.01,1)" font-size="14.4" text-anchor="start">80</text>
<text transform="translate(172.99,616) scale(1.01,1)" font-size="14.4" text-anchor="start"> 00</text>
<path transform="translate(172.99,616) scale(14.5440,-14.4000)" d="M0.258,0L0.343,0L0.343,0.688L0.262,0.688C0.24,0.62 0.2,0.585 0.1,0.575L0.1,0.505C0.17,0.51 0.225,0.53 0.258,0.56Z"/>
<text transform="translate(199.98,616) scale(1.01,1)" font-size="14.4" text-anchor="start"> 20</text>
<path transform="translate(199.98,616) scale(14.5440,-14.4000)" d="M0.258,0L0.343,0L0.343,0.688L0.262,0.688C0.24,0.62 0.2,0.585 0.1,0.575L0.1,0.505C0.17,0.51 0.225,0.53 0.258,0.56Z"/>
<text transform="translate(226.97,616) scale(1.01,1)" font-size="14.4" text-anchor="start"> 40</text>
<path transform="translate(226.97,616) scale(14.5440,-14.4000)" d="M0.258,0L0.343,0L0.343,0.688L0.262,0.688C0.24,0.62 0.2,0.585 0.1,0.575L0.1,0.505C0.17,0.51 0.225,0.53 0.258,0.56Z"/>
<text transform="translate(253.96,616) scale(1.01,1)" font-size="14.4" text-anchor="start"> 60</text>
<path transform="translate(253.96,616) scale(14.5440,-14.4000)" d="M0.258,0L0.343,0L0.343,0.688L0.262,0.688C0.24,0.62 0.2,0.585 0.1,0.575L0.1,0.505C0.17,0.51 0.225,0.53 0.258,0.56Z"/>
<text transform="translate(280.95,616) scale(1.01,1)" font-size="14.4" text-anchor="start"> 80</text>
<path transform="translate(280.95,616) scale(14.5440,-14.4000)" d="M0.258,0L0.343,0L0.343,0.688L0.262,0.688C0.24,0.62 0.2,0.585 0.1,0.575L0.1,0.505C0.17,0.51 0.225,0.53 0.258,0.56Z"/>
<text transform="translate(308.12,616) scale(1.01,1)" font-size="14.4" text-anchor="start">200</text>
<text transform="translate(13.3,341) rotate(-90) scale(1,0.98)" font-size="15.3" text-anchor="end">Events/10 GeV</text>
<text transform="translate(284.19,638.7) scale(1.05,1)" font-size="13.8" text-anchor="start">[GeV]</text>
<text transform="translate(265.05,638.7) scale(1,1)" font-size="13.8" text-anchor="start" font-style="italic">p</text>
<text transform="translate(273.09,635.2) scale(1,1)" font-size="8.3" text-anchor="start">4l</text>
<text transform="translate(273.08,645.6) scale(1,1)" font-size="8.7" text-anchor="start">T</text>
<text transform="translate(152.17,660.2) scale(1.04,1)" font-size="20.4" text-anchor="start" font-weight="bold">(b)</text>
<g clip-path="url(#cc)">
<path d="M398.2,602.9L398.2,543.15 L413.22,543.15L413.22,510.18 L428.23,510.18L428.23,474.54 L443.25,474.54L443.25,479.4 L458.27,479.4L458.27,506.94 L473.28,506.94L473.28,539.34 L488.3,539.34L488.3,560.72 L503.32,560.72L503.32,575.79 L518.33,575.79L518.33,582.67 L533.35,582.67L533.35,589.32 L548.37,589.32L548.37,593.2 L563.38,593.2L563.38,595.23 L578.4,595.23L578.4,595.63 L593.42,595.63L593.42,598.06 L608.43,598.06L608.43,598.47 L623.45,598.47L623.45,599.28 L638.47,599.28L638.47,599.68 L653.48,599.68L653.48,599.93 L668.5,599.93L668.5,602.9 Z" fill="#64b0ff"/>
<path d="M398.2,602.9L398.2,567.12 L413.22,567.12L413.22,560 L428.23,560L428.23,548.33 L443.25,548.33L443.25,555.94 L458.27,555.94L458.27,566.07 L473.28,566.07L473.28,579.03 L488.3,579.03L488.3,586.56 L503.32,586.56L503.32,591.99 L518.33,591.99L518.33,592.8 L533.35,592.8L533.35,596.04 L548.37,596.04L548.37,597.66 L563.38,597.66L563.38,598.63 L578.4,598.63L578.4,598.88 L593.42,598.88L593.42,599.85 L608.43,599.85L608.43,600.01 L623.45,600.01L623.45,600.25 L638.47,600.25L638.47,600.41 L653.48,600.41L653.48,600.5 L668.5,600.5L668.5,602.9 Z" fill="#96e04a"/>
<path d="M398.2,602.9L398.2,568.1 L413.22,568.1L413.22,564.04 L428.23,564.04L428.23,555.3 L443.25,555.3L443.25,565.26 L458.27,565.26L458.27,574.98 L473.28,574.98L473.28,585.91 L488.3,585.91L488.3,591.99 L503.32,591.99L503.32,594.66 L518.33,594.66L518.33,596.44 L533.35,596.44L533.35,598.06 L548.37,598.06L548.37,599.12 L563.38,599.12L563.38,599.68 L578.4,599.68L578.4,599.85 L593.42,599.85L593.42,600.33 L608.43,600.33L608.43,600.41 L623.45,600.41L623.45,600.58 L638.47,600.58L638.47,600.66 L653.48,600.66L653.48,600.66 L668.5,600.66L668.5,602.9 Z" fill="#ec9834"/>
<path d="M398.2,602.9L398.2,569.31 L413.22,569.31L413.22,566.07 L428.23,566.07L428.23,559.02 L443.25,559.02L443.25,569.31 L458.27,569.31L458.27,579.03 L473.28,579.03L473.28,589.56 L488.3,589.56L488.3,594.66 L503.32,594.66L503.32,596.85 L518.33,596.85L518.33,597.82 L533.35,597.82L533.35,598.88 L548.37,598.88L548.37,599.68 L563.38,599.68L563.38,600.09 L578.4,600.09L578.4,600.17 L593.42,600.17L593.42,600.5 L608.43,600.5L608.43,600.58 L623.45,600.58L623.45,600.66 L638.47,600.66L638.47,600.74 L653.48,600.74L653.48,600.74 L668.5,600.74L668.5,602.9 Z" fill="#1c58d8"/>
<path d="M398.2,602.9L398.2,569.31 L413.22,569.31L413.22,566.07 L428.23,566.07L428.23,559.02 L443.25,559.02L443.25,569.31 L458.27,569.31L458.27,579.03 L473.28,579.03L473.28,589.56 L488.3,589.56L488.3,594.66 L503.32,594.66L503.32,596.85 L518.33,596.85L518.33,597.82 L533.35,597.82L533.35,598.88 L548.37,598.88L548.37,599.68 L563.38,599.68L563.38,600.09 L578.4,600.09L578.4,600.17 L593.42,600.17L593.42,600.5 L608.43,600.5L608.43,600.58 L623.45,600.58L623.45,600.66 L638.47,600.66L638.47,600.74 L653.48,600.74L653.48,600.74 L668.5,600.74L668.5,602.9 Z" fill="#e20c0c"/>
<path d="M398.2,602.9L398.2,596.85 L413.22,596.85L413.22,596.85 L428.23,596.85L428.23,595.07 L443.25,595.07L443.25,596.85 L458.27,596.85L458.27,595.07 L473.28,595.07L473.28,598.47 L488.3,598.47L488.3,599.68 L503.32,599.68L503.32,600.09 L518.33,600.09L518.33,600.25 L533.35,600.25L533.35,600.5 L548.37,600.5L548.37,600.66 L563.38,600.66L563.38,600.74 L578.4,600.74L578.4,600.74 L593.42,600.74L593.42,600.82 L608.43,600.82L608.43,600.82 L623.45,600.82L623.45,600.82 L638.47,600.82L638.47,602.9 L653.48,602.9L653.48,602.9 L668.5,602.9L668.5,602.9 Z" fill="#ece40c"/>
<path d="M398.2,602.9L398.2,596.85 L413.22,596.85L413.22,596.85 L428.23,596.85L428.23,595.07 L443.25,595.07L443.25,596.85 L458.27,596.85L458.27,595.07 L473.28,595.07L473.28,598.47 L488.3,598.47L488.3,599.68 L503.32,599.68L503.32,600.09 L518.33,600.09L518.33,600.25 L533.35,600.25L533.35,600.5 L548.37,600.5L548.37,600.66 L563.38,600.66L563.38,600.74 L578.4,600.74L578.4,600.74 L593.42,600.74L593.42,600.82 L608.43,600.82L608.43,600.82 L623.45,600.82L623.45,600.82 L638.47,600.82L638.47,602.9 L653.48,602.9L653.48,602.9 L668.5,602.9L668.5,602.9 Z" fill="#7440d2"/>
</g>
<g clip-path="url(#cc)">
<rect x="398.2" y="529.38" width="15.02" height="27.54" fill="url(#hp)"/>
<rect x="413.22" y="497.22" width="15.02" height="25.92" fill="url(#hp)"/>
<rect x="428.23" y="462.39" width="15.02" height="24.3" fill="url(#hp)"/>
<rect x="443.25" y="467.25" width="15.02" height="24.3" fill="url(#hp)"/>
<rect x="458.27" y="497.62" width="15.02" height="18.63" fill="url(#hp)"/>
<rect x="473.28" y="532.05" width="15.02" height="14.58" fill="url(#hp)"/>
<rect x="488.3" y="555.86" width="15.02" height="9.72" fill="url(#hp)"/>
<rect x="503.32" y="572.55" width="15.02" height="6.48" fill="url(#hp)"/>
<rect x="518.33" y="580.25" width="15.02" height="4.86" fill="url(#hp)"/>
<rect x="533.35" y="587.13" width="15.02" height="4.37" fill="url(#hp)"/>
<rect x="548.37" y="592.07" width="15.02" height="2.27" fill="url(#hp)"/>
<rect x="563.38" y="594.42" width="15.02" height="1.62" fill="url(#hp)"/>
<rect x="578.4" y="594.82" width="15.02" height="1.62" fill="url(#hp)"/>
<rect x="593.42" y="597.42" width="15.02" height="1.3" fill="url(#hp)"/>
<rect x="608.43" y="597.9" width="15.02" height="1.13" fill="url(#hp)"/>
<rect x="623.45" y="598.88" width="15.02" height="0.81" fill="url(#hp)"/>
<rect x="638.47" y="599.36" width="15.02" height="0.65" fill="url(#hp)"/>
<rect x="653.48" y="599.6" width="15.02" height="0.65" fill="url(#hp)"/>
</g>
<g clip-path="url(#cc)">
<line x1="405.71" y1="513.66" x2="405.71" y2="565.11" stroke="#383838" stroke-width="1.0"/>
<circle cx="405.71" cy="544.2" r="3.0" fill="#000"/>
<line x1="420.72" y1="466.76" x2="420.72" y2="531.36" stroke="#383838" stroke-width="1.0"/>
<circle cx="420.72" cy="503.7" r="3.0" fill="#000"/>
<line x1="435.74" y1="421.05" x2="435.74" y2="496.26" stroke="#383838" stroke-width="1.0"/>
<circle cx="435.74" cy="463.2" r="3.0" fill="#000"/>
<line x1="450.76" y1="533" x2="450.76" y2="577.9" stroke="#383838" stroke-width="1.0"/>
<circle cx="450.76" cy="560.4" r="3.0" fill="#000"/>
<line x1="465.77" y1="504.15" x2="465.77" y2="558.52" stroke="#383838" stroke-width="1.0"/>
<circle cx="465.77" cy="536.1" r="3.0" fill="#000"/>
<line x1="480.79" y1="466.76" x2="480.79" y2="531.36" stroke="#383838" stroke-width="1.0"/>
<circle cx="480.79" cy="503.7" r="3.0" fill="#000"/>
<line x1="495.81" y1="504.15" x2="495.81" y2="558.52" stroke="#383838" stroke-width="1.0"/>
<circle cx="495.81" cy="536.1" r="3.0" fill="#000"/>
<line x1="510.82" y1="552.96" x2="510.82" y2="589.83" stroke="#383838" stroke-width="1.0"/>
<circle cx="510.82" cy="576.6" r="3.0" fill="#000"/>
<line x1="525.84" y1="574.17" x2="525.84" y2="599.5" stroke="#383838" stroke-width="1.0"/>
<circle cx="525.84" cy="592.8" r="3.0" fill="#000"/>
<line x1="540.86" y1="574.17" x2="540.86" y2="599.5" stroke="#383838" stroke-width="1.0"/>
<circle cx="540.86" cy="592.8" r="3.0" fill="#000"/>
<line x1="555.88" y1="574.17" x2="555.88" y2="599.5" stroke="#383838" stroke-width="1.0"/>
<circle cx="555.88" cy="592.8" r="3.0" fill="#000"/>
<line x1="585.91" y1="574.17" x2="585.91" y2="599.5" stroke="#383838" stroke-width="1.0"/>
<circle cx="585.91" cy="592.8" r="3.0" fill="#000"/>
<line x1="645.98" y1="563.33" x2="645.98" y2="595.17" stroke="#383838" stroke-width="1.0"/>
<circle cx="645.98" cy="584.7" r="3.0" fill="#000"/>
</g>
<path d="M398.2,600.9v-7.8 M398.2,342v7.8 M448.26,600.9v-7.8 M448.26,342v7.8 M498.31,600.9v-7.8 M498.31,342v7.8 M548.37,600.9v-7.8 M548.37,342v7.8 M598.42,600.9v-7.8 M598.42,342v7.8 M648.48,600.9v-7.8 M648.48,342v7.8 M408.21,600.9v-3.8 M408.21,342v3.8 M418.22,600.9v-3.8 M418.22,342v3.8 M428.23,600.9v-3.8 M428.23,342v3.8 M438.24,600.9v-3.8 M438.24,342v3.8 M458.27,600.9v-3.8 M458.27,342v3.8 M468.28,600.9v-3.8 M468.28,342v3.8 M478.29,600.9v-3.8 M478.29,342v3.8 M488.3,600.9v-3.8 M488.3,342v3.8 M508.32,600.9v-3.8 M508.32,342v3.8 M518.33,600.9v-3.8 M518.33,342v3.8 M528.34,600.9v-3.8 M528.34,342v3.8 M538.36,600.9v-3.8 M538.36,342v3.8 M558.38,600.9v-3.8 M558.38,342v3.8 M568.39,600.9v-3.8 M568.39,342v3.8 M578.4,600.9v-3.8 M578.4,342v3.8 M588.41,600.9v-3.8 M588.41,342v3.8 M608.43,600.9v-3.8 M608.43,342v3.8 M618.44,600.9v-3.8 M618.44,342v3.8 M628.46,600.9v-3.8 M628.46,342v3.8 M638.47,600.9v-3.8 M638.47,342v3.8 M658.49,600.9v-3.8 M658.49,342v3.8 M668.5,600.9v-3.8 M668.5,342v3.8 M398.2,560.4h7.8 M668.5,560.4h-7.8 M398.2,519.9h7.8 M668.5,519.9h-7.8 M398.2,479.4h7.8 M668.5,479.4h-7.8 M398.2,438.9h7.8 M668.5,438.9h-7.8 M398.2,398.4h7.8 M668.5,398.4h-7.8 M398.2,357.9h7.8 M668.5,357.9h-7.8 M398.2,592.8h3.8 M668.5,592.8h-3.8 M398.2,584.7h3.8 M668.5,584.7h-3.8 M398.2,576.6h3.8 M668.5,576.6h-3.8 M398.2,568.5h3.8 M668.5,568.5h-3.8 M398.2,552.3h3.8 M668.5,552.3h-3.8 M398.2,544.2h3.8 M668.5,544.2h-3.8 M398.2,536.1h3.8 M668.5,536.1h-3.8 M398.2,528h3.8 M668.5,528h-3.8 M398.2,511.8h3.8 M668.5,511.8h-3.8 M398.2,503.7h3.8 M668.5,503.7h-3.8 M398.2,495.6h3.8 M668.5,495.6h-3.8 M398.2,487.5h3.8 M668.5,487.5h-3.8 M398.2,471.3h3.8 M668.5,471.3h-3.8 M398.2,463.2h3.8 M668.5,463.2h-3.8 M398.2,455.1h3.8 M668.5,455.1h-3.8 M398.2,447h3.8 M668.5,447h-3.8 M398.2,430.8h3.8 M668.5,430.8h-3.8 M398.2,422.7h3.8 M668.5,422.7h-3.8 M398.2,414.6h3.8 M668.5,414.6h-3.8 M398.2,406.5h3.8 M668.5,406.5h-3.8 M398.2,390.3h3.8 M668.5,390.3h-3.8 M398.2,382.2h3.8 M668.5,382.2h-3.8 M398.2,374.1h3.8 M668.5,374.1h-3.8 M398.2,366h3.8 M668.5,366h-3.8 M398.2,349.8h3.8 M668.5,349.8h-3.8" stroke="#000" stroke-width="1.1" fill="none"/>
<rect x="398.2" y="342" width="270.3" height="258.9" fill="none" stroke="#000" stroke-width="1.15"/>
<text transform="translate(409.41,365.85) scale(1.02,1)" font-size="15.4" text-anchor="start" font-weight="bold" font-style="italic">ATLAS</text>
<text transform="translate(408.09,379.6) scale(0.95,1)" font-size="13.3" text-anchor="start">H</text>
<path d="M421.9,377H433.7 M430.4,374L434,377L430.4,380" stroke="#000" stroke-width="0.85" fill="none"/>
<text transform="translate(438.32,379.6) scale(0.96,1)" font-size="13.3" text-anchor="start">ZZ</text>
<polygon points="457.1,370.7 457.63,371.97 459,372.08 457.96,372.98 458.28,374.32 457.1,373.6 455.92,374.32 456.24,372.98 455.2,372.08 456.57,371.97" fill="#000"/>
<path d="M464.5,377H475.9 M472.6,374L476.2,377L472.6,380" stroke="#000" stroke-width="0.85" fill="none"/>
<text transform="translate(480.13,379.6) scale(1.1,1)" font-size="13.3" text-anchor="start">4l</text>
<path d="M409.2,387.9 l1.2,-0.7 l1.6,4.0 l1.8,-8.6 h5.2" stroke="#000" stroke-width="0.85" fill="none"/>
<text transform="translate(413.8,391.2) scale(1,1)" font-size="10.1" text-anchor="start">s</text>
<text transform="translate(420.69,391.2) scale(1,1)" font-size="10.1" text-anchor="start">=  3 TeV,  39 fb</text>
<path transform="translate(429.4,391.2) scale(10.1000,-10.1000)" d="M0.258,0L0.343,0L0.343,0.688L0.262,0.688C0.24,0.62 0.2,0.585 0.1,0.575L0.1,0.505C0.17,0.51 0.225,0.53 0.258,0.56Z"/>
<path transform="translate(465.35,391.2) scale(10.1000,-10.1000)" d="M0.258,0L0.343,0L0.343,0.688L0.262,0.688C0.24,0.62 0.2,0.585 0.1,0.575L0.1,0.505C0.17,0.51 0.225,0.53 0.258,0.56Z"/>
<text transform="translate(493.33,387) scale(0.96,1)" font-size="6.6" text-anchor="start">- </text>
<path transform="translate(495.44,387) scale(6.3360,-6.6000)" d="M0.258,0L0.343,0L0.343,0.688L0.262,0.688C0.24,0.62 0.2,0.585 0.1,0.575L0.1,0.505C0.17,0.51 0.225,0.53 0.258,0.56Z"/>
<text transform="translate(408.39,403.2) scale(1,1)" font-size="9.5" text-anchor="start">  5 &lt; </text>
<path transform="translate(408.39,403.2) scale(9.5000,-9.5000)" d="M0.258,0L0.343,0L0.343,0.688L0.262,0.688C0.24,0.62 0.2,0.585 0.1,0.575L0.1,0.505C0.17,0.51 0.225,0.53 0.258,0.56Z"/>
<path transform="translate(413.67,403.2) scale(9.5000,-9.5000)" d="M0.258,0L0.343,0L0.343,0.688L0.262,0.688C0.24,0.62 0.2,0.585 0.1,0.575L0.1,0.505C0.17,0.51 0.225,0.53 0.258,0.56Z"/>
<text transform="translate(434.93,403.2) scale(0.88,1)" font-size="9.5" text-anchor="start" font-style="italic">m</text>
<text transform="translate(441.85,405.5) scale(0.96,1)" font-size="6.2" text-anchor="start">4l</text>
<text transform="translate(447.91,403.2) scale(1,1)" font-size="9.5" text-anchor="start">&lt;  30 GeV</text>
<path transform="translate(456.09,403.2) scale(9.5000,-9.5000)" d="M0.258,0L0.343,0L0.343,0.688L0.262,0.688C0.24,0.62 0.2,0.585 0.1,0.575L0.1,0.505C0.17,0.51 0.225,0.53 0.258,0.56Z"/>
<text transform="translate(408.82,413.3) scale(0.98,1)" font-size="9.5" text-anchor="start" font-style="italic">N</text>
<text transform="translate(415.9,415.8) scale(0.96,1)" font-size="6.6" text-anchor="start">jets</text>
<text transform="translate(428.1,413.3) scale(0.98,1)" font-size="9.5" text-anchor="start">=  </text>
<path transform="translate(436.12,413.3) scale(9.3100,-9.5000)" d="M0.258,0L0.343,0L0.343,0.688L0.262,0.688C0.24,0.62 0.2,0.585 0.1,0.575L0.1,0.505C0.17,0.51 0.225,0.53 0.258,0.56Z"/>
<line x1="547.8" y1="352.8" x2="547.8" y2="361.6" stroke="#000" stroke-width="1"/>
<circle cx="547.8" cy="357.2" r="3.0" fill="#000"/>
<text transform="translate(553.92,360.2) scale(0.99,1)" font-size="9.9" text-anchor="start">Data</text>
<rect x="542.2" y="366.35" width="10.4" height="9.6" fill="#64b0ff"/>
<text transform="translate(554.71,374.3) scale(0.99,1)" font-size="9.9" text-anchor="start">ggF+bbH</text>
<rect x="597.8" y="366.35" width="10.4" height="9.6" fill="#e20c0c"/>
<text transform="translate(610.41,374.3) scale(0.99,1)" font-size="9.9" text-anchor="start">ZZ</text>
<polygon points="623.98,366.65 624.48,367.86 625.79,367.96 624.79,368.81 625.1,370.09 623.98,369.41 622.86,370.09 623.17,368.81 622.17,367.96 623.48,367.86" fill="#000"/>
<rect x="542.2" y="380.45" width="10.4" height="9.6" fill="#96e04a"/>
<text transform="translate(555.05,388.4) scale(0.99,1)" font-size="9.9" text-anchor="start">VBF</text>
<rect x="597.8" y="380.45" width="10.4" height="9.6" fill="#ece40c"/>
<text transform="translate(610.55,388.4) scale(0.99,1)" font-size="9.9" text-anchor="start">tXX, VVV</text>
<rect x="542.2" y="394.55" width="10.4" height="9.6" fill="#ec9834"/>
<text transform="translate(555.05,402.5) scale(0.99,1)" font-size="9.9" text-anchor="start">VH</text>
<rect x="597.8" y="394.55" width="10.4" height="9.6" fill="#7440d2"/>
<text transform="translate(610.41,402.5) scale(0.99,1)" font-size="9.9" text-anchor="start">Z+jets, t</text>
<text transform="translate(645.39,402.5) scale(0.99,1)" font-size="9.9" text-anchor="start">t</text>
<line x1="645.64" y1="395.45" x2="648.84" y2="395.45" stroke="#000" stroke-width="0.8"/>
<rect x="542.2" y="408.65" width="10.4" height="9.6" fill="#1c58d8"/>
<text transform="translate(554.95,416.6) scale(0.99,1)" font-size="9.9" text-anchor="start">ttH+tH</text>
<rect x="598.3" y="409.75" width="9.4" height="7.8" fill="url(#hpl)"/>
<text transform="translate(609.96,416.6) scale(0.99,1)" font-size="9.9" text-anchor="start">Uncertainty</text>
<text transform="translate(386.41,606.09) scale(1.01,1)" font-size="14.4" text-anchor="start">0</text>
<text transform="translate(386.41,565.59) scale(1.01,1)" font-size="14.4" text-anchor="start">5</text>
<text transform="translate(378.34,525.09) scale(1.01,1)" font-size="14.4" text-anchor="start"> 0</text>
<path transform="translate(378.34,525.09) scale(14.5440,-14.4000)" d="M0.258,0L0.343,0L0.343,0.688L0.262,0.688C0.24,0.62 0.2,0.585 0.1,0.575L0.1,0.505C0.17,0.51 0.225,0.53 0.258,0.56Z"/>
<text transform="translate(378.34,484.59) scale(1.01,1)" font-size="14.4" text-anchor="start"> 5</text>
<path transform="translate(378.34,484.59) scale(14.5440,-14.4000)" d="M0.258,0L0.343,0L0.343,0.688L0.262,0.688C0.24,0.62 0.2,0.585 0.1,0.575L0.1,0.505C0.17,0.51 0.225,0.53 0.258,0.56Z"/>
<text transform="translate(378.34,444.09) scale(1.01,1)" font-size="14.4" text-anchor="start">20</text>
<text transform="translate(378.34,403.59) scale(1.01,1)" font-size="14.4" text-anchor="start">25</text>
<text transform="translate(378.34,363.09) scale(1.01,1)" font-size="14.4" text-anchor="start">30</text>
<text transform="translate(394.16,616.3) scale(1.01,1)" font-size="14.4" text-anchor="start">0</text>
<text transform="translate(440.18,616.3) scale(1.01,1)" font-size="14.4" text-anchor="start">50</text>
<text transform="translate(485.95,616.3) scale(1.01,1)" font-size="14.4" text-anchor="start"> 00</text>
<path transform="translate(485.95,616.3) scale(14.5440,-14.4000)" d="M0.258,0L0.343,0L0.343,0.688L0.262,0.688C0.24,0.62 0.2,0.585 0.1,0.575L0.1,0.505C0.17,0.51 0.225,0.53 0.258,0.56Z"/>
<text transform="translate(536,616.3) scale(1.01,1)" font-size="14.4" text-anchor="start"> 50</text>
<path transform="translate(536,616.3) scale(14.5440,-14.4000)" d="M0.258,0L0.343,0L0.343,0.688L0.262,0.688C0.24,0.62 0.2,0.585 0.1,0.575L0.1,0.505C0.17,0.51 0.225,0.53 0.258,0.56Z"/>
<text transform="translate(586.24,616.3) scale(1.01,1)" font-size="14.4" text-anchor="start">200</text>
<text transform="translate(636.3,616.3) scale(1.01,1)" font-size="14.4" text-anchor="start">250</text>
<text transform="translate(365.2,341) rotate(-90) scale(1,0.98)" font-size="15.3" text-anchor="end">Events/15 GeV</text>
<text transform="translate(632.39,639) scale(1.05,1)" font-size="13.8" text-anchor="start">[GeV]</text>
<text transform="translate(613.25,639) scale(1,1)" font-size="13.8" text-anchor="start" font-style="italic">p</text>
<text transform="translate(621.29,635.5) scale(1,1)" font-size="8.3" text-anchor="start">4l</text>
<text transform="translate(621.28,645.9) scale(1,1)" font-size="8.7" text-anchor="start">T</text>
<text transform="translate(500.71,660.2) scale(1.04,1)" font-size="20.4" text-anchor="start" font-weight="bold">(c)</text>
<g clip-path="url(#cd)">
<path d="M50.5,949.4L50.5,911.41 L64.72,911.41L64.72,873.25 L78.94,873.25L78.94,859.53 L93.16,859.53L93.16,860.93 L107.38,860.93L107.38,867.74 L121.61,867.74L121.61,879.31 L135.83,879.31L135.83,896.06 L150.05,896.06L150.05,907.41 L164.27,907.41L164.27,916.7 L178.49,916.7L178.49,925.78 L192.71,925.78L192.71,931.19 L206.93,931.19L206.93,934.75 L221.15,934.75L221.15,938.86 L235.37,938.86L235.37,940.91 L249.59,940.91L249.59,942.54 L263.82,942.54L263.82,944.16 L278.04,944.16L278.04,944.7 L292.26,944.7L292.26,945.24 L306.48,945.24L306.48,945.78 L320.7,945.78L320.7,949.4 Z" fill="#64b0ff"/>
<path d="M50.5,949.4L50.5,924.92 L64.72,924.92L64.72,900.38 L78.94,900.38L78.94,893.25 L93.16,893.25L93.16,895.2 L107.38,895.2L107.38,901.36 L121.61,901.36L121.61,908.49 L135.83,908.49L135.83,918.76 L150.05,918.76L150.05,925.89 L164.27,925.89L164.27,930.65 L178.49,930.65L178.49,935.08 L192.71,935.08L192.71,938.75 L206.93,938.75L206.93,940.91 L221.15,940.91L221.15,942.86 L235.37,942.86L235.37,943.94 L249.59,943.94L249.59,944.81 L263.82,944.81L263.82,945.67 L278.04,945.67L278.04,945.99 L292.26,945.99L292.26,946.32 L306.48,946.32L306.48,946.54 L320.7,946.54L320.7,949.4 Z" fill="#96e04a"/>
<path d="M50.5,949.4L50.5,928.59 L64.72,928.59L64.72,910.22 L78.94,910.22L78.94,906.11 L93.16,906.11L93.16,911.62 L107.38,911.62L107.38,918.76 L121.61,918.76L121.61,923.95 L135.83,923.95L135.83,932.05 L150.05,932.05L150.05,935.51 L164.27,935.51L164.27,938.21 L178.49,938.21L178.49,940.91 L192.71,940.91L192.71,942.54 L206.93,942.54L206.93,943.83 L221.15,943.83L221.15,945.02 L235.37,945.02L235.37,945.56 L249.59,945.56L249.59,945.99 L263.82,945.99L263.82,946.43 L278.04,946.43L278.04,946.64 L292.26,946.64L292.26,946.75 L306.48,946.75L306.48,946.97 L320.7,946.97L320.7,949.4 Z" fill="#ec9834"/>
<path d="M50.5,949.4L50.5,929.57 L64.72,929.57L64.72,914.65 L78.94,914.65L78.94,912.6 L93.16,912.6L93.16,918.76 L107.38,918.76L107.38,925.89 L121.61,925.89L121.61,930.97 L135.83,930.97L135.83,937.67 L150.05,937.67L150.05,940.91 L164.27,940.91L164.27,942.54 L178.49,942.54L178.49,943.62 L192.71,943.62L192.71,944.59 L206.93,944.59L206.93,945.24 L221.15,945.24L221.15,945.99 L235.37,945.99L235.37,946.32 L249.59,946.32L249.59,946.54 L263.82,946.54L263.82,946.86 L278.04,946.86L278.04,946.97 L292.26,946.97L292.26,947.08 L306.48,947.08L306.48,947.18 L320.7,947.18L320.7,949.4 Z" fill="#1c58d8"/>
<path d="M50.5,949.4L50.5,930.11 L64.72,930.11L64.72,916.27 L78.94,916.27L78.94,915.08 L93.16,915.08L93.16,921.78 L107.38,921.78L107.38,929.03 L121.61,929.03L121.61,934.11 L135.83,934.11L135.83,940.91 L150.05,940.91L150.05,942 L164.27,942L164.27,943.08 L178.49,943.08L178.49,944.16 L192.71,944.16L192.71,945.02 L206.93,945.02L206.93,945.67 L221.15,945.67L221.15,946.32 L235.37,946.32L235.37,946.54 L249.59,946.54L249.59,946.75 L263.82,946.75L263.82,946.97 L278.04,946.97L278.04,947.08 L292.26,947.08L292.26,947.08 L306.48,947.08L306.48,947.18 L320.7,947.18L320.7,949.4 Z" fill="#e20c0c"/>
<path d="M50.5,949.4L50.5,944.27 L64.72,944.27L64.72,938.75 L78.94,938.75L78.94,938.21 L93.16,938.21L93.16,939.83 L107.38,939.83L107.38,941.56 L121.61,941.56L121.61,942 L135.83,942L135.83,944.16 L150.05,944.16L150.05,945.24 L164.27,945.24L164.27,945.78 L178.49,945.78L178.49,946.32 L192.71,946.32L192.71,946.54 L206.93,946.54L206.93,946.75 L221.15,946.75L221.15,946.97 L235.37,946.97L235.37,947.08 L249.59,947.08L249.59,947.18 L263.82,947.18L263.82,947.18 L278.04,947.18L278.04,947.29 L292.26,947.29L292.26,947.29 L306.48,947.29L306.48,947.29 L320.7,947.29L320.7,949.4 Z" fill="#ece40c"/>
<path d="M50.5,949.4L50.5,945.67 L64.72,945.67L64.72,941.56 L78.94,941.56L78.94,941.13 L93.16,941.13L93.16,942.54 L107.38,942.54L107.38,944.16 L121.61,944.16L121.61,944.7 L135.83,944.7L135.83,945.67 L150.05,945.67L150.05,946.32 L164.27,946.32L164.27,946.54 L178.49,946.54L178.49,946.86 L192.71,946.86L192.71,946.97 L206.93,946.97L206.93,947.08 L221.15,947.08L221.15,947.18 L235.37,947.18L235.37,947.18 L249.59,947.18L249.59,947.29 L263.82,947.29L263.82,947.29 L278.04,947.29L278.04,947.29 L292.26,947.29L292.26,949.4 L306.48,949.4L306.48,949.4 L320.7,949.4L320.7,949.4 Z" fill="#7440d2"/>
</g>
<g clip-path="url(#cd)">
<rect x="50.5" y="902" width="14.22" height="18.81" fill="url(#hp)"/>
<rect x="64.72" y="859.42" width="14.22" height="27.67" fill="url(#hp)"/>
<rect x="78.94" y="845.59" width="14.22" height="27.89" fill="url(#hp)"/>
<rect x="93.16" y="847.96" width="14.22" height="25.94" fill="url(#hp)"/>
<rect x="107.38" y="858.56" width="14.22" height="18.37" fill="url(#hp)"/>
<rect x="121.61" y="872.61" width="14.22" height="13.4" fill="url(#hp)"/>
<rect x="135.83" y="890.66" width="14.22" height="10.81" fill="url(#hp)"/>
<rect x="150.05" y="902.55" width="14.22" height="9.73" fill="url(#hp)"/>
<rect x="164.27" y="912.6" width="14.22" height="8.21" fill="url(#hp)"/>
<rect x="178.49" y="923.19" width="14.22" height="5.19" fill="url(#hp)"/>
<rect x="192.71" y="928.81" width="14.22" height="4.76" fill="url(#hp)"/>
<rect x="206.93" y="932.92" width="14.22" height="3.67" fill="url(#hp)"/>
<rect x="221.15" y="937.35" width="14.22" height="3.03" fill="url(#hp)"/>
<rect x="235.37" y="939.62" width="14.22" height="2.59" fill="url(#hp)"/>
<rect x="249.59" y="941.46" width="14.22" height="2.16" fill="url(#hp)"/>
<rect x="263.82" y="943.29" width="14.22" height="1.73" fill="url(#hp)"/>
<rect x="278.04" y="943.94" width="14.22" height="1.51" fill="url(#hp)"/>
<rect x="292.26" y="944.59" width="14.22" height="1.3" fill="url(#hp)"/>
<rect x="306.48" y="945.24" width="14.22" height="1.08" fill="url(#hp)"/>
</g>
<g clip-path="url(#cd)">
<line x1="57.61" y1="883.44" x2="57.61" y2="932.63" stroke="#383838" stroke-width="1.0"/>
<circle cx="57.61" cy="914.98" r="3.0" fill="#000"/>
<line x1="71.83" y1="897.27" x2="71.83" y2="939.75" stroke="#383838" stroke-width="1.0"/>
<circle cx="71.83" cy="925.78" r="3.0" fill="#000"/>
<line x1="86.05" y1="805.7" x2="86.05" y2="881.94" stroke="#383838" stroke-width="1.0"/>
<circle cx="86.05" cy="850.12" r="3.0" fill="#000"/>
<line x1="100.27" y1="883.44" x2="100.27" y2="932.63" stroke="#383838" stroke-width="1.0"/>
<circle cx="100.27" cy="914.98" r="3.0" fill="#000"/>
<line x1="114.49" y1="768.41" x2="114.49" y2="854.61" stroke="#383838" stroke-width="1.0"/>
<circle cx="114.49" cy="817.7" r="3.0" fill="#000"/>
<line x1="128.72" y1="856.79" x2="128.72" y2="916.7" stroke="#383838" stroke-width="1.0"/>
<circle cx="128.72" cy="893.36" r="3.0" fill="#000"/>
<line x1="142.94" y1="856.79" x2="142.94" y2="916.7" stroke="#383838" stroke-width="1.0"/>
<circle cx="142.94" cy="893.36" r="3.0" fill="#000"/>
<line x1="157.16" y1="897.27" x2="157.16" y2="939.75" stroke="#383838" stroke-width="1.0"/>
<circle cx="157.16" cy="925.78" r="3.0" fill="#000"/>
<line x1="171.38" y1="883.44" x2="171.38" y2="932.63" stroke="#383838" stroke-width="1.0"/>
<circle cx="171.38" cy="914.98" r="3.0" fill="#000"/>
<line x1="185.6" y1="856.79" x2="185.6" y2="916.7" stroke="#383838" stroke-width="1.0"/>
<circle cx="185.6" cy="893.36" r="3.0" fill="#000"/>
<line x1="199.82" y1="897.27" x2="199.82" y2="939.75" stroke="#383838" stroke-width="1.0"/>
<circle cx="199.82" cy="925.78" r="3.0" fill="#000"/>
<line x1="214.04" y1="883.44" x2="214.04" y2="932.63" stroke="#383838" stroke-width="1.0"/>
<circle cx="214.04" cy="914.98" r="3.0" fill="#000"/>
<line x1="242.48" y1="897.27" x2="242.48" y2="939.75" stroke="#383838" stroke-width="1.0"/>
<circle cx="242.48" cy="925.78" r="3.0" fill="#000"/>
<line x1="256.71" y1="911.73" x2="256.71" y2="945.53" stroke="#383838" stroke-width="1.0"/>
<circle cx="256.71" cy="936.59" r="3.0" fill="#000"/>
</g>
<path d="M50.5,947.4v-7.8 M50.5,688v7.8 M86.05,947.4v-7.8 M86.05,688v7.8 M121.61,947.4v-7.8 M121.61,688v7.8 M157.16,947.4v-7.8 M157.16,688v7.8 M192.71,947.4v-7.8 M192.71,688v7.8 M228.26,947.4v-7.8 M228.26,688v7.8 M263.82,947.4v-7.8 M263.82,688v7.8 M299.37,947.4v-7.8 M299.37,688v7.8 M57.61,947.4v-3.8 M57.61,688v3.8 M64.72,947.4v-3.8 M64.72,688v3.8 M71.83,947.4v-3.8 M71.83,688v3.8 M78.94,947.4v-3.8 M78.94,688v3.8 M93.16,947.4v-3.8 M93.16,688v3.8 M100.27,947.4v-3.8 M100.27,688v3.8 M107.38,947.4v-3.8 M107.38,688v3.8 M114.49,947.4v-3.8 M114.49,688v3.8 M128.72,947.4v-3.8 M128.72,688v3.8 M135.83,947.4v-3.8 M135.83,688v3.8 M142.94,947.4v-3.8 M142.94,688v3.8 M150.05,947.4v-3.8 M150.05,688v3.8 M164.27,947.4v-3.8 M164.27,688v3.8 M171.38,947.4v-3.8 M171.38,688v3.8 M178.49,947.4v-3.8 M178.49,688v3.8 M185.6,947.4v-3.8 M185.6,688v3.8 M199.82,947.4v-3.8 M199.82,688v3.8 M206.93,947.4v-3.8 M206.93,688v3.8 M214.04,947.4v-3.8 M214.04,688v3.8 M221.15,947.4v-3.8 M221.15,688v3.8 M235.37,947.4v-3.8 M235.37,688v3.8 M242.48,947.4v-3.8 M242.48,688v3.8 M249.59,947.4v-3.8 M249.59,688v3.8 M256.71,947.4v-3.8 M256.71,688v3.8 M270.93,947.4v-3.8 M270.93,688v3.8 M278.04,947.4v-3.8 M278.04,688v3.8 M285.15,947.4v-3.8 M285.15,688v3.8 M292.26,947.4v-3.8 M292.26,688v3.8 M306.48,947.4v-3.8 M306.48,688v3.8 M313.59,947.4v-3.8 M313.59,688v3.8 M320.7,947.4v-3.8 M320.7,688v3.8 M50.5,925.78h7.8 M320.7,925.78h-7.8 M50.5,904.17h7.8 M320.7,904.17h-7.8 M50.5,882.55h7.8 M320.7,882.55h-7.8 M50.5,860.93h7.8 M320.7,860.93h-7.8 M50.5,839.32h7.8 M320.7,839.32h-7.8 M50.5,817.7h7.8 M320.7,817.7h-7.8 M50.5,796.08h7.8 M320.7,796.08h-7.8 M50.5,774.47h7.8 M320.7,774.47h-7.8 M50.5,752.85h7.8 M320.7,752.85h-7.8 M50.5,731.23h7.8 M320.7,731.23h-7.8 M50.5,709.62h7.8 M320.7,709.62h-7.8 M50.5,942h3.8 M320.7,942h-3.8 M50.5,936.59h3.8 M320.7,936.59h-3.8 M50.5,931.19h3.8 M320.7,931.19h-3.8 M50.5,920.38h3.8 M320.7,920.38h-3.8 M50.5,914.98h3.8 M320.7,914.98h-3.8 M50.5,909.57h3.8 M320.7,909.57h-3.8 M50.5,898.76h3.8 M320.7,898.76h-3.8 M50.5,893.36h3.8 M320.7,893.36h-3.8 M50.5,887.95h3.8 M320.7,887.95h-3.8 M50.5,877.15h3.8 M320.7,877.15h-3.8 M50.5,871.74h3.8 M320.7,871.74h-3.8 M50.5,866.34h3.8 M320.7,866.34h-3.8 M50.5,855.53h3.8 M320.7,855.53h-3.8 M50.5,850.12h3.8 M320.7,850.12h-3.8 M50.5,844.72h3.8 M320.7,844.72h-3.8 M50.5,833.91h3.8 M320.7,833.91h-3.8 M50.5,828.51h3.8 M320.7,828.51h-3.8 M50.5,823.1h3.8 M320.7,823.1h-3.8 M50.5,812.3h3.8 M320.7,812.3h-3.8 M50.5,806.89h3.8 M320.7,806.89h-3.8 M50.5,801.49h3.8 M320.7,801.49h-3.8 M50.5,790.68h3.8 M320.7,790.68h-3.8 M50.5,785.27h3.8 M320.7,785.27h-3.8 M50.5,779.87h3.8 M320.7,779.87h-3.8 M50.5,769.06h3.8 M320.7,769.06h-3.8 M50.5,763.66h3.8 M320.7,763.66h-3.8 M50.5,758.25h3.8 M320.7,758.25h-3.8 M50.5,747.45h3.8 M320.7,747.45h-3.8 M50.5,742.04h3.8 M320.7,742.04h-3.8 M50.5,736.64h3.8 M320.7,736.64h-3.8 M50.5,725.83h3.8 M320.7,725.83h-3.8 M50.5,720.42h3.8 M320.7,720.42h-3.8 M50.5,715.02h3.8 M320.7,715.02h-3.8 M50.5,704.21h3.8 M320.7,704.21h-3.8 M50.5,698.81h3.8 M320.7,698.81h-3.8 M50.5,693.4h3.8 M320.7,693.4h-3.8" stroke="#000" stroke-width="1.1" fill="none"/>
<rect x="50.5" y="688" width="270.2" height="259.4" fill="none" stroke="#000" stroke-width="1.15"/>
<text transform="translate(61.71,711.85) scale(1.02,1)" font-size="15.4" text-anchor="start" font-weight="bold" font-style="italic">ATLAS</text>
<text transform="translate(60.39,725.6) scale(0.95,1)" font-size="13.3" text-anchor="start">H</text>
<path d="M74.2,723H86 M82.7,720L86.3,723L82.7,726" stroke="#000" stroke-width="0.85" fill="none"/>
<text transform="translate(90.62,725.6) scale(0.96,1)" font-size="13.3" text-anchor="start">ZZ</text>
<polygon points="109.4,716.7 109.93,717.97 111.3,718.08 110.26,718.98 110.58,720.32 109.4,719.6 108.22,720.32 108.54,718.98 107.5,718.08 108.87,717.97" fill="#000"/>
<path d="M116.8,723H128.2 M124.9,720L128.5,723L124.9,726" stroke="#000" stroke-width="0.85" fill="none"/>
<text transform="translate(132.43,725.6) scale(1.1,1)" font-size="13.3" text-anchor="start">4l</text>
<path d="M61.5,733.9 l1.2,-0.7 l1.6,4.0 l1.8,-8.6 h5.2" stroke="#000" stroke-width="0.85" fill="none"/>
<text transform="translate(66.1,737.2) scale(1,1)" font-size="10.1" text-anchor="start">s</text>
<text transform="translate(73,737.2) scale(1,1)" font-size="10.1" text-anchor="start">=  3 TeV,  39 fb</text>
<path transform="translate(81.7,737.2) scale(10.1000,-10.1000)" d="M0.258,0L0.343,0L0.343,0.688L0.262,0.688C0.24,0.62 0.2,0.585 0.1,0.575L0.1,0.505C0.17,0.51 0.225,0.53 0.258,0.56Z"/>
<path transform="translate(117.65,737.2) scale(10.1000,-10.1000)" d="M0.258,0L0.343,0L0.343,0.688L0.262,0.688C0.24,0.62 0.2,0.585 0.1,0.575L0.1,0.505C0.17,0.51 0.225,0.53 0.258,0.56Z"/>
<text transform="translate(145.63,733) scale(0.96,1)" font-size="6.6" text-anchor="start">- </text>
<path transform="translate(147.74,733) scale(6.3360,-6.6000)" d="M0.258,0L0.343,0L0.343,0.688L0.262,0.688C0.24,0.62 0.2,0.585 0.1,0.575L0.1,0.505C0.17,0.51 0.225,0.53 0.258,0.56Z"/>
<text transform="translate(60.69,749.2) scale(1,1)" font-size="9.5" text-anchor="start">  5 &lt; </text>
<path transform="translate(60.69,749.2) scale(9.5000,-9.5000)" d="M0.258,0L0.343,0L0.343,0.688L0.262,0.688C0.24,0.62 0.2,0.585 0.1,0.575L0.1,0.505C0.17,0.51 0.225,0.53 0.258,0.56Z"/>
<path transform="translate(65.97,749.2) scale(9.5000,-9.5000)" d="M0.258,0L0.343,0L0.343,0.688L0.262,0.688C0.24,0.62 0.2,0.585 0.1,0.575L0.1,0.505C0.17,0.51 0.225,0.53 0.258,0.56Z"/>
<text transform="translate(87.23,749.2) scale(0.88,1)" font-size="9.5" text-anchor="start" font-style="italic">m</text>
<text transform="translate(94.15,751.5) scale(0.96,1)" font-size="6.2" text-anchor="start">4l</text>
<text transform="translate(100.21,749.2) scale(1,1)" font-size="9.5" text-anchor="start">&lt;  30 GeV</text>
<path transform="translate(108.39,749.2) scale(9.5000,-9.5000)" d="M0.258,0L0.343,0L0.343,0.688L0.262,0.688C0.24,0.62 0.2,0.585 0.1,0.575L0.1,0.505C0.17,0.51 0.225,0.53 0.258,0.56Z"/>
<text transform="translate(61.12,759.3) scale(0.98,1)" font-size="9.5" text-anchor="start" font-style="italic">N</text>
<text transform="translate(68.2,761.8) scale(0.96,1)" font-size="6.6" text-anchor="start">jets</text>
<text transform="translate(80.58,759.3) scale(0.98,1)" font-size="9.5" text-anchor="start">&#8805; 2</text>
<line x1="200.1" y1="698.8" x2="200.1" y2="707.6" stroke="#000" stroke-width="1"/>
<circle cx="200.1" cy="703.2" r="3.0" fill="#000"/>
<text transform="translate(206.22,706.2) scale(0.99,1)" font-size="9.9" text-anchor="start">Data</text>
<rect x="194.5" y="712.35" width="10.4" height="9.6" fill="#64b0ff"/>
<text transform="translate(207.01,720.3) scale(0.99,1)" font-size="9.9" text-anchor="start">ggF+bbH</text>
<rect x="250.1" y="712.35" width="10.4" height="9.6" fill="#e20c0c"/>
<text transform="translate(262.71,720.3) scale(0.99,1)" font-size="9.9" text-anchor="start">ZZ</text>
<polygon points="276.28,712.65 276.78,713.86 278.09,713.96 277.09,714.81 277.4,716.09 276.28,715.41 275.16,716.09 275.47,714.81 274.47,713.96 275.78,713.86" fill="#000"/>
<rect x="194.5" y="726.45" width="10.4" height="9.6" fill="#96e04a"/>
<text transform="translate(207.35,734.4) scale(0.99,1)" font-size="9.9" text-anchor="start">VBF</text>
<rect x="250.1" y="726.45" width="10.4" height="9.6" fill="#ece40c"/>
<text transform="translate(262.85,734.4) scale(0.99,1)" font-size="9.9" text-anchor="start">tXX, VVV</text>
<rect x="194.5" y="740.55" width="10.4" height="9.6" fill="#ec9834"/>
<text transform="translate(207.35,748.5) scale(0.99,1)" font-size="9.9" text-anchor="start">VH</text>
<rect x="250.1" y="740.55" width="10.4" height="9.6" fill="#7440d2"/>
<text transform="translate(262.71,748.5) scale(0.99,1)" font-size="9.9" text-anchor="start">Z+jets, t</text>
<text transform="translate(297.69,748.5) scale(0.99,1)" font-size="9.9" text-anchor="start">t</text>
<line x1="297.94" y1="741.45" x2="301.14" y2="741.45" stroke="#000" stroke-width="0.8"/>
<rect x="194.5" y="754.65" width="10.4" height="9.6" fill="#1c58d8"/>
<text transform="translate(207.25,762.6) scale(0.99,1)" font-size="9.9" text-anchor="start">ttH+tH</text>
<rect x="250.6" y="755.75" width="9.4" height="7.8" fill="url(#hpl)"/>
<text transform="translate(262.26,762.6) scale(0.99,1)" font-size="9.9" text-anchor="start">Uncertainty</text>
<text transform="translate(39.21,952.59) scale(1.01,1)" font-size="14.4" text-anchor="start">0</text>
<text transform="translate(39.36,930.97) scale(1.01,1)" font-size="14.4" text-anchor="start">2</text>
<text transform="translate(39.06,909.36) scale(1.01,1)" font-size="14.4" text-anchor="start">4</text>
<text transform="translate(39.28,887.74) scale(1.01,1)" font-size="14.4" text-anchor="start">6</text>
<text transform="translate(39.21,866.12) scale(1.01,1)" font-size="14.4" text-anchor="start">8</text>
<text transform="translate(31.14,844.51) scale(1.01,1)" font-size="14.4" text-anchor="start"> 0</text>
<path transform="translate(31.14,844.51) scale(14.5440,-14.4000)" d="M0.258,0L0.343,0L0.343,0.688L0.262,0.688C0.24,0.62 0.2,0.585 0.1,0.575L0.1,0.505C0.17,0.51 0.225,0.53 0.258,0.56Z"/>
<text transform="translate(31.28,822.89) scale(1.01,1)" font-size="14.4" text-anchor="start"> 2</text>
<path transform="translate(31.28,822.89) scale(14.5440,-14.4000)" d="M0.258,0L0.343,0L0.343,0.688L0.262,0.688C0.24,0.62 0.2,0.585 0.1,0.575L0.1,0.505C0.17,0.51 0.225,0.53 0.258,0.56Z"/>
<text transform="translate(30.99,801.27) scale(1.01,1)" font-size="14.4" text-anchor="start"> 4</text>
<path transform="translate(30.99,801.27) scale(14.5440,-14.4000)" d="M0.258,0L0.343,0L0.343,0.688L0.262,0.688C0.24,0.62 0.2,0.585 0.1,0.575L0.1,0.505C0.17,0.51 0.225,0.53 0.258,0.56Z"/>
<text transform="translate(31.21,779.66) scale(1.01,1)" font-size="14.4" text-anchor="start"> 6</text>
<path transform="translate(31.21,779.66) scale(14.5440,-14.4000)" d="M0.258,0L0.343,0L0.343,0.688L0.262,0.688C0.24,0.62 0.2,0.585 0.1,0.575L0.1,0.505C0.17,0.51 0.225,0.53 0.258,0.56Z"/>
<text transform="translate(31.14,758.04) scale(1.01,1)" font-size="14.4" text-anchor="start"> 8</text>
<path transform="translate(31.14,758.04) scale(14.5440,-14.4000)" d="M0.258,0L0.343,0L0.343,0.688L0.262,0.688C0.24,0.62 0.2,0.585 0.1,0.575L0.1,0.505C0.17,0.51 0.225,0.53 0.258,0.56Z"/>
<text transform="translate(31.14,736.42) scale(1.01,1)" font-size="14.4" text-anchor="start">20</text>
<text transform="translate(31.28,714.81) scale(1.01,1)" font-size="14.4" text-anchor="start">22</text>
<text transform="translate(30.99,693.19) scale(1.01,1)" font-size="14.4" text-anchor="start">24</text>
<text transform="translate(46.46,962.8) scale(1.01,1)" font-size="14.4" text-anchor="start">0</text>
<text transform="translate(77.98,962.8) scale(1.01,1)" font-size="14.4" text-anchor="start">50</text>
<text transform="translate(109.24,962.8) scale(1.01,1)" font-size="14.4" text-anchor="start"> 00</text>
<path transform="translate(109.24,962.8) scale(14.5440,-14.4000)" d="M0.258,0L0.343,0L0.343,0.688L0.262,0.688C0.24,0.62 0.2,0.585 0.1,0.575L0.1,0.505C0.17,0.51 0.225,0.53 0.258,0.56Z"/>
<text transform="translate(144.8,962.8) scale(1.01,1)" font-size="14.4" text-anchor="start"> 50</text>
<path transform="translate(144.8,962.8) scale(14.5440,-14.4000)" d="M0.258,0L0.343,0L0.343,0.688L0.262,0.688C0.24,0.62 0.2,0.585 0.1,0.575L0.1,0.505C0.17,0.51 0.225,0.53 0.258,0.56Z"/>
<text transform="translate(180.53,962.8) scale(1.01,1)" font-size="14.4" text-anchor="start">200</text>
<text transform="translate(216.08,962.8) scale(1.01,1)" font-size="14.4" text-anchor="start">250</text>
<text transform="translate(251.71,962.8) scale(1.01,1)" font-size="14.4" text-anchor="start">300</text>
<text transform="translate(287.26,962.8) scale(1.01,1)" font-size="14.4" text-anchor="start">350</text>
<text transform="translate(16.8,687.9) rotate(-90) scale(1,0.98)" font-size="15.3" text-anchor="end">Events/20 GeV</text>
<text transform="translate(284.59,985.5) scale(1.05,1)" font-size="13.8" text-anchor="start">[GeV]</text>
<text transform="translate(265.44,985.5) scale(1,1)" font-size="13.8" text-anchor="start" font-style="italic">p</text>
<text transform="translate(273.49,982) scale(1,1)" font-size="8.3" text-anchor="start">4l</text>
<text transform="translate(273.48,992.4) scale(1,1)" font-size="8.7" text-anchor="start">T</text>
<text transform="translate(152.17,1006.1) scale(1.04,1)" font-size="20.4" text-anchor="start" font-weight="bold">(d)</text>
<g clip-path="url(#ce)">
<path d="M398.3,949.2L398.3,918.8 L407.3,918.8L407.3,843.46 L416.3,843.46L416.3,827.41 L425.3,827.41L425.3,866.93 L434.3,866.93L434.3,887.3 L443.3,887.3L443.3,897.8 L452.3,897.8L452.3,908.3 L461.3,908.3L461.3,915.46 L470.3,915.46L470.3,921.02 L479.3,921.02L479.3,924.97 L488.3,924.97L488.3,929.29 L497.3,929.29L497.3,931.15 L506.3,931.15L506.3,933.62 L515.3,933.62L515.3,935.47 L524.3,935.47L524.3,936.7 L533.3,936.7L533.3,937.94 L542.3,937.94L542.3,939.17 L551.3,939.17L551.3,940.41 L560.3,940.41L560.3,941.03 L569.3,941.03L569.3,941.64 L578.3,941.64L578.3,942.01 L587.3,942.01L587.3,942.51 L596.3,942.51L596.3,942.75 L605.3,942.75L605.3,943 L614.3,943L614.3,943.25 L623.3,943.25L623.3,943.5 L632.3,943.5L632.3,943.62 L641.3,943.62L641.3,943.74 L650.3,943.74L650.3,943.87 L659.3,943.87L659.3,943.99 L668.3,943.99L668.3,949.2 Z" fill="#64b0ff"/>
<path d="M398.3,949.2L398.3,936.7 L407.3,936.7L407.3,898.17 L416.3,898.17L416.3,880.88 L425.3,880.88L425.3,906.2 L434.3,906.2L434.3,915.95 L443.3,915.95L443.3,920.65 L452.3,920.65L452.3,925.83 L461.3,925.83L461.3,929.29 L470.3,929.29L470.3,931.15 L479.3,931.15L479.3,933.62 L488.3,933.62L488.3,935.47 L497.3,935.47L497.3,936.7 L506.3,936.7L506.3,937.94 L515.3,937.94L515.3,939.17 L524.3,939.17L524.3,940.04 L533.3,940.04L533.3,940.78 L542.3,940.78L542.3,941.52 L551.3,941.52L551.3,942.26 L560.3,942.26L560.3,942.75 L569.3,942.75L569.3,943.12 L578.3,943.12L578.3,943.5 L587.3,943.5L587.3,943.74 L596.3,943.74L596.3,943.99 L605.3,943.99L605.3,944.24 L614.3,944.24L614.3,944.48 L623.3,944.48L623.3,944.61 L632.3,944.61L632.3,944.73 L641.3,944.73L641.3,944.85 L650.3,944.85L650.3,944.98 L659.3,944.98L659.3,945.1 L668.3,945.1L668.3,949.2 Z" fill="#96e04a"/>
<path d="M398.3,949.2L398.3,937.57 L407.3,937.57L407.3,903.23 L416.3,903.23L416.3,885.94 L425.3,885.94L425.3,911.38 L434.3,911.38L434.3,921.76 L443.3,921.76L443.3,925.34 L452.3,925.34L452.3,932.38 L461.3,932.38L461.3,935.47 L470.3,935.47L470.3,937.94 L479.3,937.94L479.3,939.79 L488.3,939.79L488.3,941.03 L497.3,941.03L497.3,942.01 L506.3,942.01L506.3,942.88 L515.3,942.88L515.3,943.74 L524.3,943.74L524.3,944.24 L533.3,944.24L533.3,944.73 L542.3,944.73L542.3,945.1 L551.3,945.1L551.3,945.47 L560.3,945.47L560.3,945.72 L569.3,945.72L569.3,945.97 L578.3,945.97L578.3,946.09 L587.3,946.09L587.3,946.21 L596.3,946.21L596.3,946.34 L605.3,946.34L605.3,946.46 L614.3,946.46L614.3,946.58 L623.3,946.58L623.3,946.58 L632.3,946.58L632.3,946.71 L641.3,946.71L641.3,946.71 L650.3,946.71L650.3,946.71 L659.3,946.71L659.3,946.71 L668.3,946.71L668.3,949.2 Z" fill="#ec9834"/>
<path d="M398.3,949.2L398.3,939.79 L407.3,939.79L407.3,920.15 L416.3,920.15L416.3,911.01 L425.3,911.01L425.3,917.93 L434.3,917.93L434.3,926.45 L443.3,926.45L443.3,929.17 L452.3,929.17L452.3,934.85 L461.3,934.85L461.3,937.32 L470.3,937.32L470.3,939.54 L479.3,939.54L479.3,941.03 L488.3,941.03L488.3,942.26 L497.3,942.26L497.3,943.12 L506.3,943.12L506.3,943.87 L515.3,943.87L515.3,944.48 L524.3,944.48L524.3,944.85 L533.3,944.85L533.3,945.22 L542.3,945.22L542.3,945.59 L551.3,945.59L551.3,945.84 L560.3,945.84L560.3,945.97 L569.3,945.97L569.3,946.21 L578.3,946.21L578.3,946.34 L587.3,946.34L587.3,946.46 L596.3,946.46L596.3,946.58 L605.3,946.58L605.3,946.58 L614.3,946.58L614.3,946.71 L623.3,946.71L623.3,946.71 L632.3,946.71L632.3,946.83 L641.3,946.83L641.3,946.83 L650.3,946.83L650.3,946.83 L659.3,946.83L659.3,946.83 L668.3,946.83L668.3,949.2 Z" fill="#1c58d8"/>
<path d="M398.3,949.2L398.3,940.53 L407.3,940.53L407.3,922.01 L416.3,922.01L416.3,916.94 L425.3,916.94L425.3,923.24 L434.3,923.24L434.3,930.65 L443.3,930.65L443.3,932.87 L452.3,932.87L452.3,936.33 L461.3,936.33L461.3,938.56 L470.3,938.56L470.3,940.41 L479.3,940.41L479.3,941.64 L488.3,941.64L488.3,942.88 L497.3,942.88L497.3,943.5 L506.3,943.5L506.3,944.11 L515.3,944.11L515.3,944.73 L524.3,944.73L524.3,945.1 L533.3,945.1L533.3,945.35 L542.3,945.35L542.3,945.72 L551.3,945.72L551.3,945.97 L560.3,945.97L560.3,946.09 L569.3,946.09L569.3,946.21 L578.3,946.21L578.3,946.34 L587.3,946.34L587.3,946.46 L596.3,946.46L596.3,946.58 L605.3,946.58L605.3,946.58 L614.3,946.58L614.3,946.71 L623.3,946.71L623.3,946.71 L632.3,946.71L632.3,946.83 L641.3,946.83L641.3,946.83 L650.3,946.83L650.3,946.83 L659.3,946.83L659.3,946.83 L668.3,946.83L668.3,949.2 Z" fill="#e20c0c"/>
<path d="M398.3,949.2L398.3,945.97 L407.3,945.97L407.3,939.17 L416.3,939.17L416.3,939.79 L425.3,939.79L425.3,941.03 L434.3,941.03L434.3,944.11 L443.3,944.11L443.3,944.73 L452.3,944.73L452.3,945.35 L461.3,945.35L461.3,945.97 L470.3,945.97L470.3,946.21 L479.3,946.21L479.3,946.46 L488.3,946.46L488.3,946.58 L497.3,946.58L497.3,946.71 L506.3,946.71L506.3,946.71 L515.3,946.71L515.3,946.83 L524.3,946.83L524.3,946.83 L533.3,946.83L533.3,946.95 L542.3,946.95L542.3,946.95 L551.3,946.95L551.3,946.95 L560.3,946.95L560.3,946.95 L569.3,946.95L569.3,947.08 L578.3,947.08L578.3,947.08 L587.3,947.08L587.3,947.08 L596.3,947.08L596.3,947.08 L605.3,947.08L605.3,947.08 L614.3,947.08L614.3,947.08 L623.3,947.08L623.3,947.08 L632.3,947.08L632.3,947.08 L641.3,947.08L641.3,947.08 L650.3,947.08L650.3,947.08 L659.3,947.08L659.3,947.08 L668.3,947.08L668.3,949.2 Z" fill="#ece40c"/>
<path d="M398.3,949.2L398.3,946.58 L407.3,946.58L407.3,941.4 L416.3,941.4L416.3,942.26 L425.3,942.26L425.3,944.11 L434.3,944.11L434.3,945.35 L443.3,945.35L443.3,945.97 L452.3,945.97L452.3,946.21 L461.3,946.21L461.3,946.58 L470.3,946.58L470.3,946.71 L479.3,946.71L479.3,946.83 L488.3,946.83L488.3,946.83 L497.3,946.83L497.3,946.95 L506.3,946.95L506.3,946.95 L515.3,946.95L515.3,946.95 L524.3,946.95L524.3,947.08 L533.3,947.08L533.3,947.08 L542.3,947.08L542.3,947.08 L551.3,947.08L551.3,947.08 L560.3,947.08L560.3,947.08 L569.3,947.08L569.3,947.08 L578.3,947.08L578.3,947.08 L587.3,947.08L587.3,947.08 L596.3,947.08L596.3,949.2 L605.3,949.2L605.3,949.2 L614.3,949.2L614.3,949.2 L623.3,949.2L623.3,949.2 L632.3,949.2L632.3,949.2 L641.3,949.2L641.3,949.2 L650.3,949.2L650.3,949.2 L659.3,949.2L659.3,949.2 L668.3,949.2L668.3,949.2 Z" fill="#7440d2"/>
</g>
<g clip-path="url(#ce)">
<rect x="398.3" y="914.1" width="9" height="9.39" fill="url(#hp)"/>
<rect x="407.3" y="829.26" width="9" height="28.4" fill="url(#hp)"/>
<rect x="416.3" y="812.59" width="9" height="29.64" fill="url(#hp)"/>
<rect x="425.3" y="856.18" width="9" height="21.49" fill="url(#hp)"/>
<rect x="434.3" y="879.28" width="9" height="16.05" fill="url(#hp)"/>
<rect x="443.3" y="890.76" width="9" height="14.08" fill="url(#hp)"/>
<rect x="452.3" y="902.74" width="9" height="11.12" fill="url(#hp)"/>
<rect x="461.3" y="910.27" width="9" height="10.37" fill="url(#hp)"/>
<rect x="470.3" y="917.56" width="9" height="6.92" fill="url(#hp)"/>
<rect x="479.3" y="921.76" width="9" height="6.42" fill="url(#hp)"/>
<rect x="488.3" y="927.44" width="9" height="3.71" fill="url(#hp)"/>
<rect x="497.3" y="929.91" width="9" height="2.47" fill="url(#hp)"/>
<rect x="506.3" y="932.38" width="9" height="2.47" fill="url(#hp)"/>
<rect x="515.3" y="934.48" width="9" height="1.98" fill="url(#hp)"/>
<rect x="524.3" y="935.71" width="9" height="1.98" fill="url(#hp)"/>
<rect x="533.3" y="937.07" width="9" height="1.73" fill="url(#hp)"/>
<rect x="542.3" y="938.31" width="9" height="1.73" fill="url(#hp)"/>
<rect x="551.3" y="939.67" width="9" height="1.48" fill="url(#hp)"/>
<rect x="560.3" y="940.28" width="9" height="1.48" fill="url(#hp)"/>
<rect x="569.3" y="940.9" width="9" height="1.48" fill="url(#hp)"/>
<rect x="578.3" y="941.4" width="9" height="1.24" fill="url(#hp)"/>
<rect x="587.3" y="941.89" width="9" height="1.24" fill="url(#hp)"/>
<rect x="596.3" y="942.14" width="9" height="1.24" fill="url(#hp)"/>
<rect x="605.3" y="942.38" width="9" height="1.24" fill="url(#hp)"/>
<rect x="614.3" y="942.63" width="9" height="1.23" fill="url(#hp)"/>
<rect x="623.3" y="942.88" width="9" height="1.24" fill="url(#hp)"/>
<rect x="632.3" y="943" width="9" height="1.23" fill="url(#hp)"/>
<rect x="641.3" y="943.12" width="9" height="1.24" fill="url(#hp)"/>
<rect x="650.3" y="943.25" width="9" height="1.24" fill="url(#hp)"/>
<rect x="659.3" y="943.37" width="9" height="1.24" fill="url(#hp)"/>
</g>
<g clip-path="url(#ce)">
<line x1="402.8" y1="906.45" x2="402.8" y2="945.06" stroke="#383838" stroke-width="1.0"/>
<circle cx="402.8" cy="934.85" r="3.0" fill="#000"/>
<line x1="411.8" y1="771" x2="411.8" y2="862.1" stroke="#383838" stroke-width="1.0"/>
<circle cx="411.8" cy="823.7" r="3.0" fill="#000"/>
<line x1="420.8" y1="785.29" x2="420.8" y2="872.41" stroke="#383838" stroke-width="1.0"/>
<circle cx="420.8" cy="836.05" r="3.0" fill="#000"/>
<line x1="429.8" y1="889.92" x2="429.8" y2="938.46" stroke="#383838" stroke-width="1.0"/>
<circle cx="429.8" cy="922.5" r="3.0" fill="#000"/>
<line x1="438.8" y1="906.45" x2="438.8" y2="945.06" stroke="#383838" stroke-width="1.0"/>
<circle cx="438.8" cy="934.85" r="3.0" fill="#000"/>
<line x1="447.8" y1="889.92" x2="447.8" y2="938.46" stroke="#383838" stroke-width="1.0"/>
<circle cx="447.8" cy="922.5" r="3.0" fill="#000"/>
<line x1="456.8" y1="858.74" x2="456.8" y2="921.44" stroke="#383838" stroke-width="1.0"/>
<circle cx="456.8" cy="897.8" r="3.0" fill="#000"/>
<line x1="465.8" y1="906.45" x2="465.8" y2="945.06" stroke="#383838" stroke-width="1.0"/>
<circle cx="465.8" cy="934.85" r="3.0" fill="#000"/>
<line x1="474.8" y1="843.67" x2="474.8" y2="912.13" stroke="#383838" stroke-width="1.0"/>
<circle cx="474.8" cy="885.45" r="3.0" fill="#000"/>
<line x1="483.8" y1="906.45" x2="483.8" y2="945.06" stroke="#383838" stroke-width="1.0"/>
<circle cx="483.8" cy="934.85" r="3.0" fill="#000"/>
<line x1="492.8" y1="874.11" x2="492.8" y2="930.32" stroke="#383838" stroke-width="1.0"/>
<circle cx="492.8" cy="910.15" r="3.0" fill="#000"/>
<line x1="501.8" y1="889.92" x2="501.8" y2="938.46" stroke="#383838" stroke-width="1.0"/>
<circle cx="501.8" cy="922.5" r="3.0" fill="#000"/>
<line x1="510.8" y1="906.45" x2="510.8" y2="945.06" stroke="#383838" stroke-width="1.0"/>
<circle cx="510.8" cy="934.85" r="3.0" fill="#000"/>
<line x1="519.8" y1="889.92" x2="519.8" y2="938.46" stroke="#383838" stroke-width="1.0"/>
<circle cx="519.8" cy="922.5" r="3.0" fill="#000"/>
<line x1="528.8" y1="889.92" x2="528.8" y2="938.46" stroke="#383838" stroke-width="1.0"/>
<circle cx="528.8" cy="922.5" r="3.0" fill="#000"/>
<line x1="537.8" y1="906.45" x2="537.8" y2="945.06" stroke="#383838" stroke-width="1.0"/>
<circle cx="537.8" cy="934.85" r="3.0" fill="#000"/>
<line x1="546.8" y1="906.45" x2="546.8" y2="945.06" stroke="#383838" stroke-width="1.0"/>
<circle cx="546.8" cy="934.85" r="3.0" fill="#000"/>
<line x1="555.8" y1="906.45" x2="555.8" y2="945.06" stroke="#383838" stroke-width="1.0"/>
<circle cx="555.8" cy="934.85" r="3.0" fill="#000"/>
<line x1="591.8" y1="889.92" x2="591.8" y2="938.46" stroke="#383838" stroke-width="1.0"/>
<circle cx="591.8" cy="922.5" r="3.0" fill="#000"/>
<line x1="663.8" y1="889.92" x2="663.8" y2="938.46" stroke="#383838" stroke-width="1.0"/>
<circle cx="663.8" cy="922.5" r="3.0" fill="#000"/>
</g>
<path d="M398.3,947.2v-7.8 M398.3,688v7.8 M443.3,947.2v-7.8 M443.3,688v7.8 M488.3,947.2v-7.8 M488.3,688v7.8 M533.3,947.2v-7.8 M533.3,688v7.8 M578.3,947.2v-7.8 M578.3,688v7.8 M623.3,947.2v-7.8 M623.3,688v7.8 M668.3,947.2v-7.8 M668.3,688v7.8 M409.55,947.2v-3.8 M409.55,688v3.8 M420.8,947.2v-3.8 M420.8,688v3.8 M432.05,947.2v-3.8 M432.05,688v3.8 M454.55,947.2v-3.8 M454.55,688v3.8 M465.8,947.2v-3.8 M465.8,688v3.8 M477.05,947.2v-3.8 M477.05,688v3.8 M499.55,947.2v-3.8 M499.55,688v3.8 M510.8,947.2v-3.8 M510.8,688v3.8 M522.05,947.2v-3.8 M522.05,688v3.8 M544.55,947.2v-3.8 M544.55,688v3.8 M555.8,947.2v-3.8 M555.8,688v3.8 M567.05,947.2v-3.8 M567.05,688v3.8 M589.55,947.2v-3.8 M589.55,688v3.8 M600.8,947.2v-3.8 M600.8,688v3.8 M612.05,947.2v-3.8 M612.05,688v3.8 M634.55,947.2v-3.8 M634.55,688v3.8 M645.8,947.2v-3.8 M645.8,688v3.8 M657.05,947.2v-3.8 M657.05,688v3.8 M398.3,922.5h7.8 M668.3,922.5h-7.8 M398.3,897.8h7.8 M668.3,897.8h-7.8 M398.3,873.1h7.8 M668.3,873.1h-7.8 M398.3,848.4h7.8 M668.3,848.4h-7.8 M398.3,823.7h7.8 M668.3,823.7h-7.8 M398.3,799h7.8 M668.3,799h-7.8 M398.3,774.3h7.8 M668.3,774.3h-7.8 M398.3,749.6h7.8 M668.3,749.6h-7.8 M398.3,724.9h7.8 M668.3,724.9h-7.8 M398.3,700.2h7.8 M668.3,700.2h-7.8 M398.3,941.03h3.8 M668.3,941.03h-3.8 M398.3,934.85h3.8 M668.3,934.85h-3.8 M398.3,928.68h3.8 M668.3,928.68h-3.8 M398.3,916.33h3.8 M668.3,916.33h-3.8 M398.3,910.15h3.8 M668.3,910.15h-3.8 M398.3,903.98h3.8 M668.3,903.98h-3.8 M398.3,891.62h3.8 M668.3,891.62h-3.8 M398.3,885.45h3.8 M668.3,885.45h-3.8 M398.3,879.28h3.8 M668.3,879.28h-3.8 M398.3,866.93h3.8 M668.3,866.93h-3.8 M398.3,860.75h3.8 M668.3,860.75h-3.8 M398.3,854.58h3.8 M668.3,854.58h-3.8 M398.3,842.23h3.8 M668.3,842.23h-3.8 M398.3,836.05h3.8 M668.3,836.05h-3.8 M398.3,829.88h3.8 M668.3,829.88h-3.8 M398.3,817.53h3.8 M668.3,817.53h-3.8 M398.3,811.35h3.8 M668.3,811.35h-3.8 M398.3,805.18h3.8 M668.3,805.18h-3.8 M398.3,792.83h3.8 M668.3,792.83h-3.8 M398.3,786.65h3.8 M668.3,786.65h-3.8 M398.3,780.48h3.8 M668.3,780.48h-3.8 M398.3,768.12h3.8 M668.3,768.12h-3.8 M398.3,761.95h3.8 M668.3,761.95h-3.8 M398.3,755.78h3.8 M668.3,755.78h-3.8 M398.3,743.43h3.8 M668.3,743.43h-3.8 M398.3,737.25h3.8 M668.3,737.25h-3.8 M398.3,731.08h3.8 M668.3,731.08h-3.8 M398.3,718.73h3.8 M668.3,718.73h-3.8 M398.3,712.55h3.8 M668.3,712.55h-3.8 M398.3,706.38h3.8 M668.3,706.38h-3.8 M398.3,694.02h3.8 M668.3,694.02h-3.8" stroke="#000" stroke-width="1.1" fill="none"/>
<rect x="398.3" y="688" width="270" height="259.2" fill="none" stroke="#000" stroke-width="1.15"/>
<text transform="translate(409.51,711.85) scale(1.02,1)" font-size="15.4" text-anchor="start" font-weight="bold" font-style="italic">ATLAS</text>
<text transform="translate(408.19,725.6) scale(0.95,1)" font-size="13.3" text-anchor="start">H</text>
<path d="M422,723H433.8 M430.5,720L434.1,723L430.5,726" stroke="#000" stroke-width="0.85" fill="none"/>
<text transform="translate(438.42,725.6) scale(0.96,1)" font-size="13.3" text-anchor="start">ZZ</text>
<polygon points="457.2,716.7 457.73,717.97 459.1,718.08 458.06,718.98 458.38,720.32 457.2,719.6 456.02,720.32 456.34,718.98 455.3,718.08 456.67,717.97" fill="#000"/>
<path d="M464.6,723H476 M472.7,720L476.3,723L472.7,726" stroke="#000" stroke-width="0.85" fill="none"/>
<text transform="translate(480.23,725.6) scale(1.1,1)" font-size="13.3" text-anchor="start">4l</text>
<path d="M409.3,733.9 l1.2,-0.7 l1.6,4.0 l1.8,-8.6 h5.2" stroke="#000" stroke-width="0.85" fill="none"/>
<text transform="translate(413.9,737.2) scale(1,1)" font-size="10.1" text-anchor="start">s</text>
<text transform="translate(420.8,737.2) scale(1,1)" font-size="10.1" text-anchor="start">=  3 TeV,  39 fb</text>
<path transform="translate(429.5,737.2) scale(10.1000,-10.1000)" d="M0.258,0L0.343,0L0.343,0.688L0.262,0.688C0.24,0.62 0.2,0.585 0.1,0.575L0.1,0.505C0.17,0.51 0.225,0.53 0.258,0.56Z"/>
<path transform="translate(465.45,737.2) scale(10.1000,-10.1000)" d="M0.258,0L0.343,0L0.343,0.688L0.262,0.688C0.24,0.62 0.2,0.585 0.1,0.575L0.1,0.505C0.17,0.51 0.225,0.53 0.258,0.56Z"/>
<text transform="translate(493.43,733) scale(0.96,1)" font-size="6.6" text-anchor="start">- </text>
<path transform="translate(495.54,733) scale(6.3360,-6.6000)" d="M0.258,0L0.343,0L0.343,0.688L0.262,0.688C0.24,0.62 0.2,0.585 0.1,0.575L0.1,0.505C0.17,0.51 0.225,0.53 0.258,0.56Z"/>
<text transform="translate(408.49,749.2) scale(1,1)" font-size="9.5" text-anchor="start">  5 &lt; </text>
<path transform="translate(408.49,749.2) scale(9.5000,-9.5000)" d="M0.258,0L0.343,0L0.343,0.688L0.262,0.688C0.24,0.62 0.2,0.585 0.1,0.575L0.1,0.505C0.17,0.51 0.225,0.53 0.258,0.56Z"/>
<path transform="translate(413.77,749.2) scale(9.5000,-9.5000)" d="M0.258,0L0.343,0L0.343,0.688L0.262,0.688C0.24,0.62 0.2,0.585 0.1,0.575L0.1,0.505C0.17,0.51 0.225,0.53 0.258,0.56Z"/>
<text transform="translate(435.03,749.2) scale(0.88,1)" font-size="9.5" text-anchor="start" font-style="italic">m</text>
<text transform="translate(441.95,751.5) scale(0.96,1)" font-size="6.2" text-anchor="start">4l</text>
<text transform="translate(448.01,749.2) scale(1,1)" font-size="9.5" text-anchor="start">&lt;  30 GeV</text>
<path transform="translate(456.19,749.2) scale(9.5000,-9.5000)" d="M0.258,0L0.343,0L0.343,0.688L0.262,0.688C0.24,0.62 0.2,0.585 0.1,0.575L0.1,0.505C0.17,0.51 0.225,0.53 0.258,0.56Z"/>
<text transform="translate(408.92,759.3) scale(0.98,1)" font-size="9.5" text-anchor="start" font-style="italic">N</text>
<text transform="translate(416,761.8) scale(0.96,1)" font-size="6.6" text-anchor="start">jets</text>
<text transform="translate(428.38,759.3) scale(0.98,1)" font-size="9.5" text-anchor="start">&#8805; 2</text>
<line x1="547.9" y1="698.8" x2="547.9" y2="707.6" stroke="#000" stroke-width="1"/>
<circle cx="547.9" cy="703.2" r="3.0" fill="#000"/>
<text transform="translate(554.02,706.2) scale(0.99,1)" font-size="9.9" text-anchor="start">Data</text>
<rect x="542.3" y="712.35" width="10.4" height="9.6" fill="#64b0ff"/>
<text transform="translate(554.81,720.3) scale(0.99,1)" font-size="9.9" text-anchor="start">ggF+bbH</text>
<rect x="597.9" y="712.35" width="10.4" height="9.6" fill="#e20c0c"/>
<text transform="translate(610.51,720.3) scale(0.99,1)" font-size="9.9" text-anchor="start">ZZ</text>
<polygon points="624.08,712.65 624.58,713.86 625.89,713.96 624.89,714.81 625.2,716.09 624.08,715.41 622.96,716.09 623.27,714.81 622.27,713.96 623.58,713.86" fill="#000"/>
<rect x="542.3" y="726.45" width="10.4" height="9.6" fill="#96e04a"/>
<text transform="translate(555.15,734.4) scale(0.99,1)" font-size="9.9" text-anchor="start">VBF</text>
<rect x="597.9" y="726.45" width="10.4" height="9.6" fill="#ece40c"/>
<text transform="translate(610.65,734.4) scale(0.99,1)" font-size="9.9" text-anchor="start">tXX, VVV</text>
<rect x="542.3" y="740.55" width="10.4" height="9.6" fill="#ec9834"/>
<text transform="translate(555.15,748.5) scale(0.99,1)" font-size="9.9" text-anchor="start">VH</text>
<rect x="597.9" y="740.55" width="10.4" height="9.6" fill="#7440d2"/>
<text transform="translate(610.51,748.5) scale(0.99,1)" font-size="9.9" text-anchor="start">Z+jets, t</text>
<text transform="translate(645.49,748.5) scale(0.99,1)" font-size="9.9" text-anchor="start">t</text>
<line x1="645.74" y1="741.45" x2="648.94" y2="741.45" stroke="#000" stroke-width="0.8"/>
<rect x="542.3" y="754.65" width="10.4" height="9.6" fill="#1c58d8"/>
<text transform="translate(555.05,762.6) scale(0.99,1)" font-size="9.9" text-anchor="start">ttH+tH</text>
<rect x="598.4" y="755.75" width="9.4" height="7.8" fill="url(#hpl)"/>
<text transform="translate(610.06,762.6) scale(0.99,1)" font-size="9.9" text-anchor="start">Uncertainty</text>
<text transform="translate(386.91,952.39) scale(1.01,1)" font-size="14.4" text-anchor="start">0</text>
<text transform="translate(387.06,927.69) scale(1.01,1)" font-size="14.4" text-anchor="start">2</text>
<text transform="translate(386.76,902.99) scale(1.01,1)" font-size="14.4" text-anchor="start">4</text>
<text transform="translate(386.98,878.29) scale(1.01,1)" font-size="14.4" text-anchor="start">6</text>
<text transform="translate(386.91,853.59) scale(1.01,1)" font-size="14.4" text-anchor="start">8</text>
<text transform="translate(378.84,828.89) scale(1.01,1)" font-size="14.4" text-anchor="start"> 0</text>
<path transform="translate(378.84,828.89) scale(14.5440,-14.4000)" d="M0.258,0L0.343,0L0.343,0.688L0.262,0.688C0.24,0.62 0.2,0.585 0.1,0.575L0.1,0.505C0.17,0.51 0.225,0.53 0.258,0.56Z"/>
<text transform="translate(378.98,804.19) scale(1.01,1)" font-size="14.4" text-anchor="start"> 2</text>
<path transform="translate(378.98,804.19) scale(14.5440,-14.4000)" d="M0.258,0L0.343,0L0.343,0.688L0.262,0.688C0.24,0.62 0.2,0.585 0.1,0.575L0.1,0.505C0.17,0.51 0.225,0.53 0.258,0.56Z"/>
<text transform="translate(378.69,779.49) scale(1.01,1)" font-size="14.4" text-anchor="start"> 4</text>
<path transform="translate(378.69,779.49) scale(14.5440,-14.4000)" d="M0.258,0L0.343,0L0.343,0.688L0.262,0.688C0.24,0.62 0.2,0.585 0.1,0.575L0.1,0.505C0.17,0.51 0.225,0.53 0.258,0.56Z"/>
<text transform="translate(378.91,754.79) scale(1.01,1)" font-size="14.4" text-anchor="start"> 6</text>
<path transform="translate(378.91,754.79) scale(14.5440,-14.4000)" d="M0.258,0L0.343,0L0.343,0.688L0.262,0.688C0.24,0.62 0.2,0.585 0.1,0.575L0.1,0.505C0.17,0.51 0.225,0.53 0.258,0.56Z"/>
<text transform="translate(378.84,730.09) scale(1.01,1)" font-size="14.4" text-anchor="start"> 8</text>
<path transform="translate(378.84,730.09) scale(14.5440,-14.4000)" d="M0.258,0L0.343,0L0.343,0.688L0.262,0.688C0.24,0.62 0.2,0.585 0.1,0.575L0.1,0.505C0.17,0.51 0.225,0.53 0.258,0.56Z"/>
<text transform="translate(378.84,705.39) scale(1.01,1)" font-size="14.4" text-anchor="start">20</text>
<text transform="translate(394.26,962.6) scale(1.01,1)" font-size="14.4" text-anchor="start">0</text>
<text transform="translate(431.12,962.6) scale(1.01,1)" font-size="14.4" text-anchor="start">200</text>
<text transform="translate(476.3,962.6) scale(1.01,1)" font-size="14.4" text-anchor="start">400</text>
<text transform="translate(521.12,962.6) scale(1.01,1)" font-size="14.4" text-anchor="start">600</text>
<text transform="translate(566.16,962.6) scale(1.01,1)" font-size="14.4" text-anchor="start">800</text>
<text transform="translate(606.87,962.6) scale(1.01,1)" font-size="14.4" text-anchor="start"> 000</text>
<path transform="translate(606.87,962.6) scale(14.5440,-14.4000)" d="M0.258,0L0.343,0L0.343,0.688L0.262,0.688C0.24,0.62 0.2,0.585 0.1,0.575L0.1,0.505C0.17,0.51 0.225,0.53 0.258,0.56Z"/>
<text transform="translate(651.87,962.6) scale(1.01,1)" font-size="14.4" text-anchor="start"> 200</text>
<path transform="translate(651.87,962.6) scale(14.5440,-14.4000)" d="M0.258,0L0.343,0L0.343,0.688L0.262,0.688C0.24,0.62 0.2,0.585 0.1,0.575L0.1,0.505C0.17,0.51 0.225,0.53 0.258,0.56Z"/>
<text transform="translate(365.2,688) rotate(-90) scale(1,0.98)" font-size="15.3" text-anchor="end">Events/40 GeV</text>
<text transform="translate(631.49,984.5) scale(1.05,1)" font-size="13.8" text-anchor="start">[GeV]</text>
<text transform="translate(611.59,984.5) scale(1,1)" font-size="13.8" text-anchor="start" font-style="italic">m</text>
<text transform="translate(623.24,989.2) scale(1.05,1)" font-size="9" text-anchor="start">jj</text>
<text transform="translate(500.71,1006.1) scale(1.04,1)" font-size="20.4" text-anchor="start" font-weight="bold">(e)</text>
</g></svg>
</body></html>
